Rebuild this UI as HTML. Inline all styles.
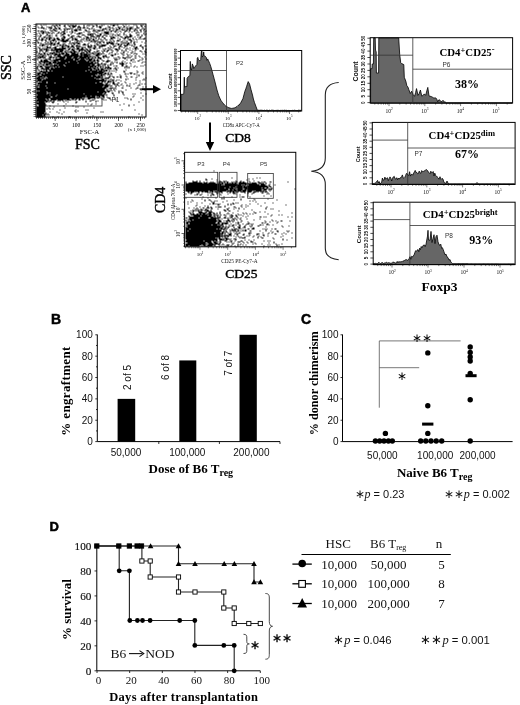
<!DOCTYPE html>
<html><head><meta charset="utf-8"><style>
html,body{margin:0;padding:0;background:#fff;}
svg{display:block;filter:grayscale(1);}
</style></head><body>
<svg width="520" height="705" viewBox="0 0 520 705">
<rect width="520" height="705" fill="#fff"/>
<text x="21" y="11.5" font-family='"Liberation Sans", sans-serif' font-size="13" font-weight="bold" text-anchor="start" fill="#000"  stroke="#000" stroke-width="0.5">A</text>
<text x="51" y="323.7" font-family='"Liberation Sans", sans-serif' font-size="14" font-weight="bold" text-anchor="start" fill="#000"  stroke="#000" stroke-width="0.5">B</text>
<text x="301" y="323.7" font-family='"Liberation Sans", sans-serif' font-size="14" font-weight="bold" text-anchor="start" fill="#000"  stroke="#000" stroke-width="0.5">C</text>
<text x="49.5" y="531.2" font-family='"Liberation Sans", sans-serif' font-size="13" font-weight="bold" text-anchor="start" fill="#000"  stroke="#000" stroke-width="0.5">D</text>
<rect x="36" y="24" width="110" height="93" stroke="#000" stroke-width="1" fill="none" />
<rect x="44" y="95" width="58" height="11" stroke="#444" stroke-width="0.9" fill="none" />
<path d="M36 24h1v1h-1zM40 24h1v1h-1zM43 24h1v1h-1zM45 24h1v1h-1zM52 24h1v1h-1zM55 24h2v1h-2zM58 24h2v1h-2zM64 24h1v1h-1zM67 24h1v1h-1zM70 24h1v1h-1zM72 24h1v1h-1zM75 24h1v1h-1zM83 24h1v1h-1zM87 24h1v1h-1zM89 24h1v1h-1zM91 24h1v1h-1zM95 24h2v1h-2zM101 24h1v1h-1zM103 24h1v1h-1zM110 24h1v1h-1zM112 24h3v1h-3zM116 24h2v1h-2zM122 24h1v1h-1zM125 24h1v1h-1zM133 24h1v1h-1zM135 24h1v1h-1zM140 24h1v1h-1zM142 24h1v1h-1zM41 25h1v1h-1zM51 25h1v1h-1zM53 25h2v1h-2zM56 25h1v1h-1zM59 25h1v1h-1zM63 25h2v1h-2zM68 25h2v1h-2zM71 25h5v1h-5zM78 25h1v1h-1zM83 25h1v1h-1zM86 25h1v1h-1zM88 25h1v1h-1zM92 25h2v1h-2zM96 25h1v1h-1zM99 25h1v1h-1zM101 25h1v1h-1zM107 25h1v1h-1zM112 25h2v1h-2zM123 25h1v1h-1zM128 25h1v1h-1zM136 25h1v1h-1zM140 25h2v1h-2zM144 25h1v1h-1zM37 26h1v1h-1zM41 26h1v1h-1zM46 26h1v1h-1zM48 26h1v1h-1zM50 26h1v1h-1zM54 26h1v1h-1zM57 26h1v1h-1zM64 26h1v1h-1zM69 26h1v1h-1zM72 26h3v1h-3zM77 26h3v1h-3zM83 26h1v1h-1zM92 26h1v1h-1zM96 26h1v1h-1zM98 26h3v1h-3zM108 26h2v1h-2zM117 26h2v1h-2zM120 26h1v1h-1zM123 26h2v1h-2zM126 26h1v1h-1zM130 26h1v1h-1zM132 26h1v1h-1zM136 26h1v1h-1zM141 26h1v1h-1zM144 26h1v1h-1zM38 27h1v1h-1zM40 27h4v1h-4zM48 27h4v1h-4zM54 27h2v1h-2zM58 27h2v1h-2zM65 27h1v1h-1zM70 27h1v1h-1zM72 27h1v1h-1zM77 27h1v1h-1zM79 27h2v1h-2zM82 27h3v1h-3zM86 27h2v1h-2zM91 27h1v1h-1zM99 27h2v1h-2zM105 27h1v1h-1zM107 27h1v1h-1zM109 27h1v1h-1zM111 27h2v1h-2zM115 27h1v1h-1zM118 27h2v1h-2zM122 27h1v1h-1zM126 27h1v1h-1zM128 27h4v1h-4zM136 27h3v1h-3zM142 27h1v1h-1zM43 28h1v1h-1zM45 28h1v1h-1zM50 28h1v1h-1zM53 28h1v1h-1zM55 28h2v1h-2zM58 28h2v1h-2zM63 28h2v1h-2zM66 28h4v1h-4zM71 28h1v1h-1zM75 28h1v1h-1zM77 28h1v1h-1zM79 28h1v1h-1zM88 28h2v1h-2zM91 28h1v1h-1zM93 28h1v1h-1zM102 28h4v1h-4zM109 28h1v1h-1zM113 28h1v1h-1zM116 28h1v1h-1zM118 28h2v1h-2zM121 28h1v1h-1zM124 28h1v1h-1zM126 28h2v1h-2zM129 28h2v1h-2zM132 28h1v1h-1zM134 28h2v1h-2zM141 28h1v1h-1zM143 28h2v1h-2zM49 29h1v1h-1zM52 29h3v1h-3zM60 29h1v1h-1zM64 29h1v1h-1zM66 29h1v1h-1zM71 29h1v1h-1zM73 29h4v1h-4zM78 29h3v1h-3zM84 29h2v1h-2zM93 29h1v1h-1zM95 29h1v1h-1zM97 29h1v1h-1zM99 29h1v1h-1zM101 29h2v1h-2zM106 29h1v1h-1zM108 29h2v1h-2zM112 29h1v1h-1zM115 29h3v1h-3zM121 29h3v1h-3zM126 29h1v1h-1zM128 29h2v1h-2zM134 29h1v1h-1zM136 29h1v1h-1zM139 29h2v1h-2zM143 29h1v1h-1zM37 30h2v1h-2zM40 30h3v1h-3zM44 30h1v1h-1zM50 30h2v1h-2zM54 30h3v1h-3zM63 30h2v1h-2zM71 30h1v1h-1zM74 30h3v1h-3zM85 30h2v1h-2zM88 30h1v1h-1zM92 30h3v1h-3zM97 30h3v1h-3zM101 30h1v1h-1zM103 30h1v1h-1zM110 30h2v1h-2zM113 30h1v1h-1zM115 30h1v1h-1zM119 30h1v1h-1zM124 30h3v1h-3zM129 30h1v1h-1zM133 30h2v1h-2zM136 30h1v1h-1zM140 30h1v1h-1zM143 30h1v1h-1zM145 30h1v1h-1zM40 31h1v1h-1zM42 31h2v1h-2zM45 31h1v1h-1zM47 31h1v1h-1zM52 31h1v1h-1zM58 31h1v1h-1zM61 31h3v1h-3zM66 31h1v1h-1zM69 31h1v1h-1zM71 31h2v1h-2zM83 31h1v1h-1zM87 31h1v1h-1zM89 31h1v1h-1zM95 31h2v1h-2zM104 31h5v1h-5zM110 31h1v1h-1zM114 31h2v1h-2zM117 31h1v1h-1zM120 31h1v1h-1zM124 31h1v1h-1zM128 31h1v1h-1zM131 31h1v1h-1zM137 31h1v1h-1zM140 31h1v1h-1zM144 31h1v1h-1zM38 32h1v1h-1zM41 32h3v1h-3zM45 32h1v1h-1zM47 32h3v1h-3zM51 32h1v1h-1zM53 32h1v1h-1zM57 32h2v1h-2zM60 32h1v1h-1zM63 32h2v1h-2zM71 32h1v1h-1zM74 32h1v1h-1zM78 32h4v1h-4zM88 32h1v1h-1zM93 32h1v1h-1zM97 32h1v1h-1zM101 32h1v1h-1zM103 32h5v1h-5zM123 32h1v1h-1zM135 32h2v1h-2zM138 32h1v1h-1zM143 32h1v1h-1zM36 33h1v1h-1zM39 33h1v1h-1zM42 33h1v1h-1zM46 33h1v1h-1zM51 33h1v1h-1zM56 33h1v1h-1zM60 33h1v1h-1zM62 33h3v1h-3zM70 33h1v1h-1zM76 33h4v1h-4zM87 33h1v1h-1zM89 33h4v1h-4zM94 33h1v1h-1zM99 33h2v1h-2zM105 33h4v1h-4zM110 33h1v1h-1zM112 33h1v1h-1zM116 33h1v1h-1zM119 33h1v1h-1zM123 33h1v1h-1zM129 33h1v1h-1zM143 33h1v1h-1zM145 33h1v1h-1zM40 34h1v1h-1zM46 34h2v1h-2zM49 34h1v1h-1zM55 34h1v1h-1zM61 34h2v1h-2zM67 34h2v1h-2zM81 34h3v1h-3zM87 34h4v1h-4zM92 34h1v1h-1zM95 34h1v1h-1zM97 34h1v1h-1zM99 34h2v1h-2zM103 34h2v1h-2zM112 34h1v1h-1zM114 34h1v1h-1zM117 34h2v1h-2zM123 34h1v1h-1zM125 34h1v1h-1zM129 34h2v1h-2zM136 34h3v1h-3zM141 34h1v1h-1zM144 34h1v1h-1zM37 35h1v1h-1zM39 35h2v1h-2zM45 35h1v1h-1zM48 35h2v1h-2zM51 35h1v1h-1zM55 35h2v1h-2zM60 35h1v1h-1zM63 35h1v1h-1zM68 35h1v1h-1zM71 35h3v1h-3zM77 35h2v1h-2zM84 35h1v1h-1zM90 35h3v1h-3zM96 35h4v1h-4zM102 35h1v1h-1zM105 35h2v1h-2zM109 35h1v1h-1zM111 35h1v1h-1zM115 35h1v1h-1zM117 35h1v1h-1zM119 35h1v1h-1zM126 35h1v1h-1zM129 35h3v1h-3zM141 35h1v1h-1zM39 36h1v1h-1zM43 36h2v1h-2zM47 36h1v1h-1zM49 36h1v1h-1zM62 36h3v1h-3zM70 36h2v1h-2zM76 36h1v1h-1zM78 36h3v1h-3zM85 36h3v1h-3zM90 36h1v1h-1zM92 36h3v1h-3zM96 36h1v1h-1zM98 36h1v1h-1zM101 36h2v1h-2zM110 36h1v1h-1zM112 36h2v1h-2zM120 36h2v1h-2zM124 36h7v1h-7zM134 36h1v1h-1zM137 36h1v1h-1zM139 36h2v1h-2zM38 37h1v1h-1zM41 37h1v1h-1zM43 37h1v1h-1zM45 37h2v1h-2zM48 37h4v1h-4zM53 37h1v1h-1zM56 37h2v1h-2zM61 37h1v1h-1zM63 37h2v1h-2zM69 37h1v1h-1zM71 37h2v1h-2zM74 37h1v1h-1zM83 37h1v1h-1zM86 37h3v1h-3zM90 37h1v1h-1zM95 37h1v1h-1zM98 37h1v1h-1zM103 37h2v1h-2zM110 37h5v1h-5zM117 37h1v1h-1zM122 37h1v1h-1zM124 37h2v1h-2zM127 37h1v1h-1zM132 37h1v1h-1zM139 37h1v1h-1zM144 37h1v1h-1zM38 38h1v1h-1zM41 38h2v1h-2zM46 38h1v1h-1zM48 38h2v1h-2zM53 38h2v1h-2zM56 38h3v1h-3zM61 38h3v1h-3zM67 38h2v1h-2zM72 38h1v1h-1zM74 38h3v1h-3zM81 38h1v1h-1zM83 38h1v1h-1zM85 38h2v1h-2zM88 38h1v1h-1zM90 38h1v1h-1zM92 38h2v1h-2zM95 38h1v1h-1zM98 38h1v1h-1zM100 38h1v1h-1zM104 38h1v1h-1zM110 38h2v1h-2zM119 38h1v1h-1zM123 38h2v1h-2zM127 38h1v1h-1zM129 38h1v1h-1zM132 38h1v1h-1zM135 38h1v1h-1zM138 38h1v1h-1zM140 38h1v1h-1zM142 38h3v1h-3zM36 39h1v1h-1zM38 39h1v1h-1zM40 39h3v1h-3zM44 39h2v1h-2zM48 39h2v1h-2zM51 39h4v1h-4zM57 39h3v1h-3zM61 39h3v1h-3zM65 39h3v1h-3zM71 39h2v1h-2zM74 39h3v1h-3zM80 39h1v1h-1zM82 39h1v1h-1zM86 39h1v1h-1zM88 39h2v1h-2zM92 39h2v1h-2zM97 39h1v1h-1zM100 39h1v1h-1zM102 39h1v1h-1zM105 39h2v1h-2zM109 39h1v1h-1zM112 39h1v1h-1zM117 39h1v1h-1zM119 39h1v1h-1zM128 39h3v1h-3zM133 39h1v1h-1zM136 39h1v1h-1zM36 40h1v1h-1zM41 40h1v1h-1zM45 40h1v1h-1zM50 40h1v1h-1zM52 40h2v1h-2zM55 40h1v1h-1zM60 40h8v1h-8zM69 40h1v1h-1zM76 40h3v1h-3zM80 40h1v1h-1zM84 40h1v1h-1zM86 40h1v1h-1zM88 40h1v1h-1zM90 40h2v1h-2zM93 40h4v1h-4zM101 40h1v1h-1zM110 40h1v1h-1zM113 40h1v1h-1zM116 40h3v1h-3zM122 40h1v1h-1zM124 40h1v1h-1zM126 40h1v1h-1zM130 40h2v1h-2zM145 40h1v1h-1zM37 41h1v1h-1zM45 41h1v1h-1zM47 41h1v1h-1zM49 41h2v1h-2zM55 41h1v1h-1zM58 41h1v1h-1zM62 41h4v1h-4zM69 41h1v1h-1zM74 41h1v1h-1zM76 41h1v1h-1zM79 41h1v1h-1zM81 41h1v1h-1zM90 41h1v1h-1zM92 41h1v1h-1zM94 41h1v1h-1zM97 41h4v1h-4zM102 41h2v1h-2zM106 41h1v1h-1zM108 41h2v1h-2zM111 41h1v1h-1zM113 41h1v1h-1zM120 41h2v1h-2zM126 41h1v1h-1zM130 41h1v1h-1zM133 41h2v1h-2zM136 41h1v1h-1zM141 41h1v1h-1zM37 42h2v1h-2zM40 42h1v1h-1zM44 42h1v1h-1zM47 42h1v1h-1zM50 42h3v1h-3zM54 42h1v1h-1zM57 42h2v1h-2zM69 42h1v1h-1zM71 42h3v1h-3zM75 42h4v1h-4zM88 42h1v1h-1zM94 42h1v1h-1zM96 42h1v1h-1zM99 42h1v1h-1zM103 42h1v1h-1zM106 42h7v1h-7zM116 42h1v1h-1zM122 42h4v1h-4zM127 42h2v1h-2zM130 42h1v1h-1zM133 42h1v1h-1zM144 42h1v1h-1zM40 43h1v1h-1zM42 43h1v1h-1zM45 43h2v1h-2zM48 43h4v1h-4zM53 43h2v1h-2zM56 43h3v1h-3zM62 43h3v1h-3zM68 43h1v1h-1zM70 43h1v1h-1zM73 43h2v1h-2zM77 43h3v1h-3zM83 43h2v1h-2zM87 43h1v1h-1zM96 43h1v1h-1zM98 43h1v1h-1zM100 43h1v1h-1zM106 43h2v1h-2zM110 43h4v1h-4zM115 43h1v1h-1zM117 43h2v1h-2zM120 43h2v1h-2zM126 43h3v1h-3zM133 43h2v1h-2zM39 44h1v1h-1zM41 44h4v1h-4zM47 44h1v1h-1zM50 44h1v1h-1zM52 44h3v1h-3zM59 44h2v1h-2zM62 44h1v1h-1zM65 44h1v1h-1zM71 44h1v1h-1zM73 44h1v1h-1zM76 44h1v1h-1zM82 44h4v1h-4zM87 44h1v1h-1zM90 44h1v1h-1zM94 44h1v1h-1zM96 44h2v1h-2zM101 44h5v1h-5zM112 44h1v1h-1zM117 44h2v1h-2zM120 44h1v1h-1zM123 44h2v1h-2zM126 44h2v1h-2zM129 44h1v1h-1zM131 44h1v1h-1zM134 44h1v1h-1zM140 44h1v1h-1zM39 45h1v1h-1zM41 45h2v1h-2zM46 45h1v1h-1zM50 45h1v1h-1zM56 45h2v1h-2zM59 45h1v1h-1zM61 45h8v1h-8zM71 45h2v1h-2zM75 45h5v1h-5zM87 45h2v1h-2zM90 45h2v1h-2zM93 45h2v1h-2zM98 45h7v1h-7zM109 45h1v1h-1zM113 45h3v1h-3zM119 45h2v1h-2zM124 45h3v1h-3zM131 45h1v1h-1zM133 45h1v1h-1zM139 45h2v1h-2zM144 45h2v1h-2zM37 46h1v1h-1zM44 46h1v1h-1zM46 46h2v1h-2zM49 46h1v1h-1zM54 46h2v1h-2zM61 46h2v1h-2zM67 46h2v1h-2zM70 46h4v1h-4zM76 46h1v1h-1zM78 46h1v1h-1zM80 46h1v1h-1zM82 46h1v1h-1zM84 46h1v1h-1zM87 46h4v1h-4zM94 46h2v1h-2zM99 46h1v1h-1zM101 46h1v1h-1zM110 46h1v1h-1zM113 46h1v1h-1zM118 46h2v1h-2zM121 46h1v1h-1zM124 46h1v1h-1zM133 46h1v1h-1zM135 46h2v1h-2zM141 46h2v1h-2zM38 47h2v1h-2zM42 47h1v1h-1zM46 47h5v1h-5zM52 47h4v1h-4zM59 47h1v1h-1zM61 47h5v1h-5zM67 47h1v1h-1zM69 47h1v1h-1zM73 47h1v1h-1zM76 47h3v1h-3zM81 47h2v1h-2zM84 47h1v1h-1zM88 47h1v1h-1zM90 47h1v1h-1zM92 47h3v1h-3zM98 47h2v1h-2zM107 47h2v1h-2zM110 47h1v1h-1zM112 47h1v1h-1zM118 47h1v1h-1zM123 47h1v1h-1zM126 47h1v1h-1zM129 47h1v1h-1zM134 47h3v1h-3zM142 47h1v1h-1zM36 48h1v1h-1zM39 48h1v1h-1zM41 48h1v1h-1zM43 48h4v1h-4zM51 48h1v1h-1zM54 48h11v1h-11zM68 48h2v1h-2zM71 48h2v1h-2zM74 48h1v1h-1zM76 48h3v1h-3zM80 48h3v1h-3zM85 48h2v1h-2zM89 48h1v1h-1zM93 48h2v1h-2zM96 48h1v1h-1zM102 48h1v1h-1zM104 48h2v1h-2zM109 48h1v1h-1zM114 48h3v1h-3zM118 48h2v1h-2zM125 48h1v1h-1zM127 48h1v1h-1zM132 48h1v1h-1zM134 48h2v1h-2zM137 48h1v1h-1zM142 48h1v1h-1zM145 48h1v1h-1zM39 49h3v1h-3zM43 49h1v1h-1zM45 49h4v1h-4zM50 49h13v1h-13zM65 49h1v1h-1zM67 49h2v1h-2zM71 49h3v1h-3zM76 49h1v1h-1zM78 49h7v1h-7zM86 49h2v1h-2zM89 49h2v1h-2zM103 49h1v1h-1zM107 49h2v1h-2zM110 49h2v1h-2zM115 49h3v1h-3zM121 49h1v1h-1zM125 49h1v1h-1zM129 49h1v1h-1zM135 49h1v1h-1zM145 49h1v1h-1zM36 50h1v1h-1zM39 50h1v1h-1zM41 50h1v1h-1zM45 50h2v1h-2zM51 50h1v1h-1zM53 50h1v1h-1zM55 50h3v1h-3zM59 50h4v1h-4zM64 50h1v1h-1zM66 50h1v1h-1zM70 50h1v1h-1zM72 50h3v1h-3zM78 50h2v1h-2zM81 50h1v1h-1zM84 50h2v1h-2zM87 50h3v1h-3zM96 50h3v1h-3zM101 50h1v1h-1zM103 50h2v1h-2zM106 50h2v1h-2zM112 50h1v1h-1zM117 50h1v1h-1zM121 50h1v1h-1zM123 50h1v1h-1zM125 50h1v1h-1zM131 50h1v1h-1zM134 50h1v1h-1zM139 50h2v1h-2zM144 50h1v1h-1zM36 51h1v1h-1zM39 51h1v1h-1zM42 51h1v1h-1zM45 51h1v1h-1zM47 51h1v1h-1zM53 51h1v1h-1zM55 51h7v1h-7zM64 51h2v1h-2zM67 51h5v1h-5zM73 51h4v1h-4zM78 51h1v1h-1zM81 51h1v1h-1zM83 51h1v1h-1zM85 51h2v1h-2zM88 51h2v1h-2zM93 51h2v1h-2zM96 51h1v1h-1zM102 51h1v1h-1zM106 51h1v1h-1zM111 51h1v1h-1zM116 51h1v1h-1zM123 51h1v1h-1zM127 51h1v1h-1zM132 51h1v1h-1zM141 51h1v1h-1zM144 51h2v1h-2zM36 52h1v1h-1zM38 52h1v1h-1zM43 52h2v1h-2zM49 52h6v1h-6zM56 52h1v1h-1zM58 52h1v1h-1zM61 52h3v1h-3zM65 52h2v1h-2zM70 52h5v1h-5zM77 52h1v1h-1zM80 52h4v1h-4zM86 52h2v1h-2zM89 52h1v1h-1zM91 52h2v1h-2zM95 52h1v1h-1zM97 52h3v1h-3zM102 52h1v1h-1zM109 52h1v1h-1zM111 52h1v1h-1zM120 52h1v1h-1zM122 52h2v1h-2zM130 52h2v1h-2zM134 52h1v1h-1zM145 52h1v1h-1zM38 53h4v1h-4zM43 53h2v1h-2zM46 53h2v1h-2zM49 53h1v1h-1zM51 53h2v1h-2zM54 53h3v1h-3zM58 53h6v1h-6zM65 53h4v1h-4zM71 53h7v1h-7zM79 53h3v1h-3zM83 53h4v1h-4zM88 53h1v1h-1zM90 53h1v1h-1zM92 53h3v1h-3zM96 53h3v1h-3zM100 53h2v1h-2zM103 53h1v1h-1zM108 53h1v1h-1zM114 53h2v1h-2zM117 53h1v1h-1zM121 53h1v1h-1zM126 53h1v1h-1zM133 53h1v1h-1zM135 53h2v1h-2zM142 53h1v1h-1zM144 53h1v1h-1zM37 54h1v1h-1zM40 54h1v1h-1zM42 54h1v1h-1zM44 54h1v1h-1zM47 54h2v1h-2zM50 54h1v1h-1zM53 54h7v1h-7zM62 54h1v1h-1zM64 54h5v1h-5zM70 54h8v1h-8zM80 54h10v1h-10zM95 54h5v1h-5zM105 54h1v1h-1zM110 54h3v1h-3zM114 54h1v1h-1zM122 54h2v1h-2zM127 54h1v1h-1zM129 54h1v1h-1zM145 54h1v1h-1zM36 55h1v1h-1zM38 55h2v1h-2zM41 55h3v1h-3zM45 55h1v1h-1zM50 55h1v1h-1zM54 55h1v1h-1zM57 55h4v1h-4zM63 55h19v1h-19zM83 55h5v1h-5zM89 55h1v1h-1zM91 55h1v1h-1zM93 55h1v1h-1zM95 55h3v1h-3zM102 55h4v1h-4zM111 55h2v1h-2zM127 55h1v1h-1zM131 55h1v1h-1zM134 55h2v1h-2zM138 55h1v1h-1zM37 56h1v1h-1zM39 56h4v1h-4zM44 56h1v1h-1zM48 56h4v1h-4zM53 56h1v1h-1zM55 56h10v1h-10zM66 56h6v1h-6zM73 56h5v1h-5zM79 56h12v1h-12zM92 56h1v1h-1zM94 56h1v1h-1zM97 56h2v1h-2zM102 56h2v1h-2zM105 56h2v1h-2zM108 56h1v1h-1zM117 56h2v1h-2zM122 56h1v1h-1zM126 56h1v1h-1zM128 56h1v1h-1zM130 56h1v1h-1zM139 56h1v1h-1zM144 56h1v1h-1zM37 57h4v1h-4zM42 57h3v1h-3zM49 57h2v1h-2zM52 57h2v1h-2zM55 57h1v1h-1zM59 57h6v1h-6zM66 57h5v1h-5zM72 57h5v1h-5zM78 57h8v1h-8zM87 57h2v1h-2zM91 57h2v1h-2zM94 57h2v1h-2zM97 57h4v1h-4zM103 57h1v1h-1zM107 57h1v1h-1zM113 57h1v1h-1zM115 57h1v1h-1zM119 57h1v1h-1zM122 57h4v1h-4zM127 57h1v1h-1zM129 57h1v1h-1zM134 57h2v1h-2zM141 57h1v1h-1zM36 58h1v1h-1zM45 58h1v1h-1zM47 58h3v1h-3zM55 58h9v1h-9zM65 58h8v1h-8zM74 58h5v1h-5zM80 58h4v1h-4zM85 58h7v1h-7zM93 58h1v1h-1zM97 58h1v1h-1zM99 58h2v1h-2zM114 58h1v1h-1zM116 58h1v1h-1zM118 58h1v1h-1zM124 58h1v1h-1zM132 58h1v1h-1zM142 58h1v1h-1zM145 58h1v1h-1zM37 59h1v1h-1zM40 59h2v1h-2zM43 59h4v1h-4zM49 59h2v1h-2zM52 59h21v1h-21zM74 59h4v1h-4zM79 59h6v1h-6zM86 59h1v1h-1zM88 59h4v1h-4zM93 59h2v1h-2zM96 59h2v1h-2zM101 59h1v1h-1zM107 59h1v1h-1zM114 59h3v1h-3zM126 59h1v1h-1zM130 59h2v1h-2zM133 59h1v1h-1zM139 59h1v1h-1zM141 59h1v1h-1zM40 60h2v1h-2zM43 60h5v1h-5zM51 60h1v1h-1zM53 60h5v1h-5zM60 60h16v1h-16zM77 60h9v1h-9zM87 60h4v1h-4zM92 60h3v1h-3zM96 60h3v1h-3zM102 60h2v1h-2zM106 60h4v1h-4zM122 60h1v1h-1zM130 60h1v1h-1zM137 60h2v1h-2zM38 61h13v1h-13zM52 61h4v1h-4zM57 61h11v1h-11zM69 61h20v1h-20zM90 61h3v1h-3zM94 61h1v1h-1zM97 61h1v1h-1zM105 61h3v1h-3zM111 61h1v1h-1zM114 61h1v1h-1zM116 61h1v1h-1zM121 61h1v1h-1zM124 61h1v1h-1zM132 61h1v1h-1zM134 61h1v1h-1zM142 61h1v1h-1zM144 61h1v1h-1zM39 62h1v1h-1zM43 62h2v1h-2zM46 62h1v1h-1zM48 62h3v1h-3zM52 62h13v1h-13zM66 62h11v1h-11zM78 62h15v1h-15zM94 62h4v1h-4zM101 62h1v1h-1zM110 62h1v1h-1zM112 62h1v1h-1zM116 62h1v1h-1zM119 62h1v1h-1zM121 62h2v1h-2zM126 62h1v1h-1zM129 62h1v1h-1zM141 62h1v1h-1zM37 63h1v1h-1zM39 63h3v1h-3zM43 63h1v1h-1zM45 63h7v1h-7zM54 63h1v1h-1zM56 63h39v1h-39zM97 63h2v1h-2zM100 63h2v1h-2zM103 63h3v1h-3zM110 63h1v1h-1zM112 63h1v1h-1zM119 63h5v1h-5zM125 63h1v1h-1zM130 63h1v1h-1zM38 64h1v1h-1zM42 64h2v1h-2zM45 64h3v1h-3zM49 64h1v1h-1zM51 64h1v1h-1zM53 64h4v1h-4zM58 64h5v1h-5zM64 64h26v1h-26zM91 64h3v1h-3zM96 64h4v1h-4zM102 64h1v1h-1zM104 64h1v1h-1zM107 64h1v1h-1zM109 64h2v1h-2zM121 64h2v1h-2zM144 64h1v1h-1zM37 65h1v1h-1zM39 65h3v1h-3zM43 65h1v1h-1zM45 65h1v1h-1zM47 65h1v1h-1zM49 65h15v1h-15zM65 65h31v1h-31zM97 65h2v1h-2zM100 65h1v1h-1zM102 65h1v1h-1zM104 65h1v1h-1zM107 65h1v1h-1zM113 65h1v1h-1zM115 65h2v1h-2zM121 65h2v1h-2zM125 65h2v1h-2zM130 65h1v1h-1zM134 65h1v1h-1zM140 65h1v1h-1zM142 65h1v1h-1zM36 66h2v1h-2zM39 66h3v1h-3zM44 66h6v1h-6zM51 66h1v1h-1zM53 66h2v1h-2zM56 66h2v1h-2zM59 66h29v1h-29zM89 66h4v1h-4zM94 66h2v1h-2zM97 66h1v1h-1zM99 66h2v1h-2zM102 66h1v1h-1zM105 66h1v1h-1zM107 66h2v1h-2zM124 66h1v1h-1zM126 66h1v1h-1zM128 66h1v1h-1zM133 66h1v1h-1zM136 66h1v1h-1zM36 67h1v1h-1zM41 67h2v1h-2zM45 67h4v1h-4zM50 67h3v1h-3zM54 67h37v1h-37zM92 67h3v1h-3zM96 67h2v1h-2zM100 67h1v1h-1zM102 67h1v1h-1zM104 67h7v1h-7zM114 67h2v1h-2zM117 67h1v1h-1zM124 67h1v1h-1zM126 67h1v1h-1zM128 67h1v1h-1zM36 68h2v1h-2zM40 68h9v1h-9zM50 68h42v1h-42zM93 68h3v1h-3zM97 68h2v1h-2zM100 68h3v1h-3zM104 68h1v1h-1zM107 68h1v1h-1zM109 68h2v1h-2zM113 68h1v1h-1zM115 68h1v1h-1zM38 69h1v1h-1zM43 69h1v1h-1zM45 69h2v1h-2zM48 69h40v1h-40zM89 69h3v1h-3zM93 69h1v1h-1zM95 69h4v1h-4zM100 69h4v1h-4zM105 69h2v1h-2zM108 69h1v1h-1zM115 69h2v1h-2zM125 69h1v1h-1zM36 70h1v1h-1zM38 70h1v1h-1zM40 70h2v1h-2zM43 70h1v1h-1zM45 70h2v1h-2zM49 70h2v1h-2zM52 70h33v1h-33zM86 70h11v1h-11zM98 70h4v1h-4zM103 70h4v1h-4zM109 70h1v1h-1zM111 70h1v1h-1zM113 70h1v1h-1zM123 70h1v1h-1zM136 70h1v1h-1zM39 71h51v1h-51zM91 71h13v1h-13zM108 71h1v1h-1zM115 71h1v1h-1zM123 71h2v1h-2zM137 71h1v1h-1zM142 71h1v1h-1zM36 72h4v1h-4zM42 72h4v1h-4zM47 72h56v1h-56zM104 72h2v1h-2zM107 72h1v1h-1zM110 72h1v1h-1zM129 72h3v1h-3zM136 72h1v1h-1zM141 72h1v1h-1zM37 73h6v1h-6zM44 73h53v1h-53zM98 73h4v1h-4zM103 73h3v1h-3zM107 73h2v1h-2zM110 73h2v1h-2zM124 73h2v1h-2zM127 73h1v1h-1zM130 73h1v1h-1zM133 73h2v1h-2zM142 73h1v1h-1zM36 74h3v1h-3zM41 74h54v1h-54zM96 74h1v1h-1zM98 74h1v1h-1zM100 74h4v1h-4zM107 74h1v1h-1zM109 74h1v1h-1zM119 74h1v1h-1zM136 74h1v1h-1zM138 74h1v1h-1zM36 75h1v1h-1zM38 75h53v1h-53zM92 75h4v1h-4zM97 75h5v1h-5zM104 75h1v1h-1zM109 75h1v1h-1zM111 75h1v1h-1zM120 75h1v1h-1zM125 75h1v1h-1zM138 75h1v1h-1zM37 76h5v1h-5zM43 76h2v1h-2zM46 76h16v1h-16zM63 76h37v1h-37zM101 76h2v1h-2zM108 76h2v1h-2zM112 76h2v1h-2zM116 76h2v1h-2zM119 76h2v1h-2zM126 76h1v1h-1zM130 76h2v1h-2zM136 76h1v1h-1zM36 77h4v1h-4zM41 77h3v1h-3zM45 77h1v1h-1zM47 77h47v1h-47zM95 77h7v1h-7zM104 77h5v1h-5zM113 77h1v1h-1zM120 77h1v1h-1zM135 77h1v1h-1zM145 77h1v1h-1zM36 78h6v1h-6zM43 78h1v1h-1zM45 78h51v1h-51zM97 78h1v1h-1zM101 78h3v1h-3zM105 78h1v1h-1zM107 78h1v1h-1zM110 78h1v1h-1zM125 78h1v1h-1zM127 78h1v1h-1zM143 78h1v1h-1zM37 79h4v1h-4zM42 79h62v1h-62zM105 79h1v1h-1zM109 79h1v1h-1zM111 79h3v1h-3zM116 79h1v1h-1zM118 79h1v1h-1zM125 79h1v1h-1zM135 79h1v1h-1zM142 79h1v1h-1zM144 79h1v1h-1zM36 80h70v1h-70zM107 80h2v1h-2zM110 80h1v1h-1zM112 80h1v1h-1zM115 80h1v1h-1zM120 80h1v1h-1zM139 80h1v1h-1zM36 81h1v1h-1zM39 81h1v1h-1zM41 81h5v1h-5zM47 81h52v1h-52zM101 81h2v1h-2zM104 81h1v1h-1zM107 81h4v1h-4zM112 81h2v1h-2zM124 81h1v1h-1zM37 82h9v1h-9zM47 82h7v1h-7zM55 82h40v1h-40zM96 82h6v1h-6zM104 82h1v1h-1zM106 82h2v1h-2zM112 82h2v1h-2zM117 82h2v1h-2zM125 82h1v1h-1zM135 82h1v1h-1zM139 82h1v1h-1zM37 83h66v1h-66zM105 83h2v1h-2zM109 83h1v1h-1zM112 83h3v1h-3zM116 83h1v1h-1zM121 83h1v1h-1zM129 83h1v1h-1zM133 83h1v1h-1zM141 83h1v1h-1zM144 83h1v1h-1zM37 84h1v1h-1zM39 84h70v1h-70zM114 84h1v1h-1zM116 84h2v1h-2zM120 84h1v1h-1zM126 84h1v1h-1zM138 84h2v1h-2zM36 85h9v1h-9zM46 85h57v1h-57zM104 85h4v1h-4zM109 85h3v1h-3zM115 85h1v1h-1zM118 85h1v1h-1zM122 85h1v1h-1zM126 85h1v1h-1zM128 85h2v1h-2zM137 85h1v1h-1zM36 86h1v1h-1zM39 86h63v1h-63zM103 86h5v1h-5zM115 86h1v1h-1zM142 86h1v1h-1zM145 86h1v1h-1zM36 87h10v1h-10zM47 87h59v1h-59zM109 87h4v1h-4zM114 87h1v1h-1zM121 87h2v1h-2zM130 87h1v1h-1zM136 87h2v1h-2zM36 88h31v1h-31zM68 88h37v1h-37zM106 88h1v1h-1zM108 88h1v1h-1zM110 88h1v1h-1zM113 88h1v1h-1zM115 88h1v1h-1zM135 88h1v1h-1zM139 88h2v1h-2zM36 89h68v1h-68zM106 89h1v1h-1zM110 89h1v1h-1zM113 89h1v1h-1zM125 89h1v1h-1zM140 89h1v1h-1zM144 89h1v1h-1zM37 90h1v1h-1zM39 90h66v1h-66zM106 90h4v1h-4zM111 90h1v1h-1zM114 90h1v1h-1zM118 90h1v1h-1zM120 90h1v1h-1zM36 91h10v1h-10zM47 91h50v1h-50zM98 91h8v1h-8zM107 91h2v1h-2zM118 91h1v1h-1zM121 91h2v1h-2zM36 92h11v1h-11zM48 92h1v1h-1zM50 92h53v1h-53zM104 92h2v1h-2zM111 92h2v1h-2zM118 92h1v1h-1zM122 92h1v1h-1zM140 92h1v1h-1zM36 93h10v1h-10zM47 93h36v1h-36zM84 93h18v1h-18zM103 93h2v1h-2zM112 93h1v1h-1zM122 93h1v1h-1zM132 93h1v1h-1zM134 93h1v1h-1zM145 93h1v1h-1zM37 94h12v1h-12zM50 94h6v1h-6zM57 94h47v1h-47zM105 94h2v1h-2zM113 94h1v1h-1zM123 94h1v1h-1zM36 95h19v1h-19zM56 95h29v1h-29zM86 95h4v1h-4zM91 95h4v1h-4zM96 95h4v1h-4zM101 95h3v1h-3zM113 95h1v1h-1zM133 95h1v1h-1zM142 95h1v1h-1zM36 96h14v1h-14zM52 96h43v1h-43zM96 96h1v1h-1zM98 96h2v1h-2zM102 96h2v1h-2zM106 96h1v1h-1zM132 96h1v1h-1zM36 97h46v1h-46zM83 97h1v1h-1zM87 97h8v1h-8zM96 97h3v1h-3zM100 97h1v1h-1zM103 97h1v1h-1zM107 97h3v1h-3zM124 97h1v1h-1zM126 97h1v1h-1zM140 97h1v1h-1zM37 98h8v1h-8zM46 98h2v1h-2zM50 98h19v1h-19zM71 98h3v1h-3zM75 98h2v1h-2zM78 98h2v1h-2zM81 98h3v1h-3zM85 98h1v1h-1zM87 98h3v1h-3zM94 98h1v1h-1zM101 98h2v1h-2zM109 98h1v1h-1zM114 98h1v1h-1zM127 98h1v1h-1zM130 98h1v1h-1zM36 99h10v1h-10zM47 99h2v1h-2zM50 99h6v1h-6zM57 99h6v1h-6zM64 99h1v1h-1zM66 99h5v1h-5zM72 99h1v1h-1zM74 99h2v1h-2zM78 99h2v1h-2zM82 99h1v1h-1zM91 99h3v1h-3zM103 99h1v1h-1zM105 99h1v1h-1zM110 99h1v1h-1zM115 99h1v1h-1zM130 99h1v1h-1zM142 99h1v1h-1zM36 100h12v1h-12zM49 100h2v1h-2zM53 100h1v1h-1zM57 100h1v1h-1zM59 100h1v1h-1zM62 100h1v1h-1zM65 100h1v1h-1zM85 100h1v1h-1zM89 100h2v1h-2zM95 100h1v1h-1zM97 100h1v1h-1zM36 101h1v1h-1zM38 101h6v1h-6zM45 101h2v1h-2zM48 101h1v1h-1zM51 101h3v1h-3zM63 101h1v1h-1zM67 101h1v1h-1zM75 101h2v1h-2zM85 101h1v1h-1zM95 101h1v1h-1zM138 101h1v1h-1zM36 102h9v1h-9zM52 102h1v1h-1zM75 102h1v1h-1zM36 103h9v1h-9zM57 103h1v1h-1zM65 103h1v1h-1zM87 103h1v1h-1zM91 103h1v1h-1zM95 103h1v1h-1zM123 103h1v1h-1zM38 104h8v1h-8zM90 104h1v1h-1zM119 104h1v1h-1zM128 104h1v1h-1zM133 104h1v1h-1zM36 105h1v1h-1zM38 105h7v1h-7zM49 105h1v1h-1zM63 105h1v1h-1zM72 105h1v1h-1zM128 105h1v1h-1zM36 106h9v1h-9zM53 106h1v1h-1zM75 106h1v1h-1zM77 106h1v1h-1zM83 106h1v1h-1zM36 107h9v1h-9zM48 107h1v1h-1zM64 107h1v1h-1zM93 107h1v1h-1zM36 108h9v1h-9zM46 108h1v1h-1zM49 108h1v1h-1zM52 108h1v1h-1zM36 109h9v1h-9zM59 109h1v1h-1zM75 109h1v1h-1zM85 109h1v1h-1zM87 109h1v1h-1zM121 109h1v1h-1zM134 109h1v1h-1zM36 110h9v1h-9zM74 110h1v1h-1zM77 110h1v1h-1zM36 111h9v1h-9zM49 111h1v1h-1zM56 111h1v1h-1zM63 111h1v1h-1zM75 111h1v1h-1zM100 111h1v1h-1zM102 111h1v1h-1zM36 112h8v1h-8zM45 112h1v1h-1zM58 112h1v1h-1zM86 112h1v1h-1zM36 113h10v1h-10zM47 113h1v1h-1zM61 113h1v1h-1zM138 113h1v1h-1zM36 114h6v1h-6zM43 114h2v1h-2zM46 114h1v1h-1zM48 114h1v1h-1zM141 114h1v1h-1zM36 115h9v1h-9zM92 115h1v1h-1zM36 116h7v1h-7zM44 116h1v1h-1zM52 116h1v1h-1zM57 116h1v1h-1zM68 116h2v1h-2zM89 116h1v1h-1zM128 116h1v1h-1z" fill="#000" fill-opacity="1.0" transform="translate(0.5 0.5)"/>
<text x="111.5" y="102.2" font-family='"Liberation Sans", sans-serif' font-size="6.5" font-weight="normal" text-anchor="start" fill="#333" >P1</text>
<line x1="36.5" y1="117" x2="36.5" y2="119" stroke="#000" stroke-width="0.5" />
<line x1="38.5" y1="117" x2="38.5" y2="119" stroke="#000" stroke-width="0.5" />
<line x1="40.5" y1="117" x2="40.5" y2="119" stroke="#000" stroke-width="0.5" />
<line x1="42.5" y1="117" x2="42.5" y2="119" stroke="#000" stroke-width="0.5" />
<line x1="44.5" y1="117" x2="44.5" y2="119" stroke="#000" stroke-width="0.5" />
<line x1="46.5" y1="117" x2="46.5" y2="119" stroke="#000" stroke-width="0.5" />
<line x1="48.5" y1="117" x2="48.5" y2="119" stroke="#000" stroke-width="0.5" />
<line x1="50.5" y1="117" x2="50.5" y2="119" stroke="#000" stroke-width="0.5" />
<line x1="52.5" y1="117" x2="52.5" y2="119" stroke="#000" stroke-width="0.5" />
<line x1="54.5" y1="117" x2="54.5" y2="119" stroke="#000" stroke-width="0.5" />
<line x1="56.5" y1="117" x2="56.5" y2="119" stroke="#000" stroke-width="0.5" />
<line x1="58.5" y1="117" x2="58.5" y2="119" stroke="#000" stroke-width="0.5" />
<line x1="60.5" y1="117" x2="60.5" y2="119" stroke="#000" stroke-width="0.5" />
<line x1="62.5" y1="117" x2="62.5" y2="119" stroke="#000" stroke-width="0.5" />
<line x1="64.5" y1="117" x2="64.5" y2="119" stroke="#000" stroke-width="0.5" />
<line x1="66.5" y1="117" x2="66.5" y2="119" stroke="#000" stroke-width="0.5" />
<line x1="68.5" y1="117" x2="68.5" y2="119" stroke="#000" stroke-width="0.5" />
<line x1="70.5" y1="117" x2="70.5" y2="119" stroke="#000" stroke-width="0.5" />
<line x1="72.5" y1="117" x2="72.5" y2="119" stroke="#000" stroke-width="0.5" />
<line x1="74.5" y1="117" x2="74.5" y2="119" stroke="#000" stroke-width="0.5" />
<line x1="76.5" y1="117" x2="76.5" y2="119" stroke="#000" stroke-width="0.5" />
<line x1="78.5" y1="117" x2="78.5" y2="119" stroke="#000" stroke-width="0.5" />
<line x1="80.5" y1="117" x2="80.5" y2="119" stroke="#000" stroke-width="0.5" />
<line x1="82.5" y1="117" x2="82.5" y2="119" stroke="#000" stroke-width="0.5" />
<line x1="84.5" y1="117" x2="84.5" y2="119" stroke="#000" stroke-width="0.5" />
<line x1="86.5" y1="117" x2="86.5" y2="119" stroke="#000" stroke-width="0.5" />
<line x1="88.5" y1="117" x2="88.5" y2="119" stroke="#000" stroke-width="0.5" />
<line x1="90.5" y1="117" x2="90.5" y2="119" stroke="#000" stroke-width="0.5" />
<line x1="92.5" y1="117" x2="92.5" y2="119" stroke="#000" stroke-width="0.5" />
<line x1="94.5" y1="117" x2="94.5" y2="119" stroke="#000" stroke-width="0.5" />
<line x1="96.5" y1="117" x2="96.5" y2="119" stroke="#000" stroke-width="0.5" />
<line x1="98.5" y1="117" x2="98.5" y2="119" stroke="#000" stroke-width="0.5" />
<line x1="100.5" y1="117" x2="100.5" y2="119" stroke="#000" stroke-width="0.5" />
<line x1="102.5" y1="117" x2="102.5" y2="119" stroke="#000" stroke-width="0.5" />
<line x1="104.5" y1="117" x2="104.5" y2="119" stroke="#000" stroke-width="0.5" />
<line x1="106.5" y1="117" x2="106.5" y2="119" stroke="#000" stroke-width="0.5" />
<line x1="108.5" y1="117" x2="108.5" y2="119" stroke="#000" stroke-width="0.5" />
<line x1="110.5" y1="117" x2="110.5" y2="119" stroke="#000" stroke-width="0.5" />
<line x1="112.5" y1="117" x2="112.5" y2="119" stroke="#000" stroke-width="0.5" />
<line x1="114.5" y1="117" x2="114.5" y2="119" stroke="#000" stroke-width="0.5" />
<line x1="116.5" y1="117" x2="116.5" y2="119" stroke="#000" stroke-width="0.5" />
<line x1="118.5" y1="117" x2="118.5" y2="119" stroke="#000" stroke-width="0.5" />
<line x1="120.5" y1="117" x2="120.5" y2="119" stroke="#000" stroke-width="0.5" />
<line x1="122.5" y1="117" x2="122.5" y2="119" stroke="#000" stroke-width="0.5" />
<line x1="124.5" y1="117" x2="124.5" y2="119" stroke="#000" stroke-width="0.5" />
<line x1="126.5" y1="117" x2="126.5" y2="119" stroke="#000" stroke-width="0.5" />
<line x1="128.5" y1="117" x2="128.5" y2="119" stroke="#000" stroke-width="0.5" />
<line x1="130.5" y1="117" x2="130.5" y2="119" stroke="#000" stroke-width="0.5" />
<line x1="132.5" y1="117" x2="132.5" y2="119" stroke="#000" stroke-width="0.5" />
<line x1="134.5" y1="117" x2="134.5" y2="119" stroke="#000" stroke-width="0.5" />
<line x1="136.5" y1="117" x2="136.5" y2="119" stroke="#000" stroke-width="0.5" />
<line x1="138.5" y1="117" x2="138.5" y2="119" stroke="#000" stroke-width="0.5" />
<line x1="140.5" y1="117" x2="140.5" y2="119" stroke="#000" stroke-width="0.5" />
<line x1="142.5" y1="117" x2="142.5" y2="119" stroke="#000" stroke-width="0.5" />
<line x1="144.5" y1="117" x2="144.5" y2="119" stroke="#000" stroke-width="0.5" />
<line x1="55.2" y1="117" x2="55.2" y2="121" stroke="#000" stroke-width="0.6" />
<text x="55.2" y="127" font-family='"Liberation Serif", serif' font-size="5.5" font-weight="normal" text-anchor="middle" fill="#000" >50</text>
<line x1="76" y1="117" x2="76" y2="121" stroke="#000" stroke-width="0.6" />
<text x="76" y="127" font-family='"Liberation Serif", serif' font-size="5.5" font-weight="normal" text-anchor="middle" fill="#000" >100</text>
<line x1="97" y1="117" x2="97" y2="121" stroke="#000" stroke-width="0.6" />
<text x="97" y="127" font-family='"Liberation Serif", serif' font-size="5.5" font-weight="normal" text-anchor="middle" fill="#000" >150</text>
<line x1="118.5" y1="117" x2="118.5" y2="121" stroke="#000" stroke-width="0.6" />
<text x="118.5" y="127" font-family='"Liberation Serif", serif' font-size="5.5" font-weight="normal" text-anchor="middle" fill="#000" >200</text>
<line x1="140.5" y1="117" x2="140.5" y2="121" stroke="#000" stroke-width="0.6" />
<text x="140.5" y="127" font-family='"Liberation Serif", serif' font-size="5.5" font-weight="normal" text-anchor="middle" fill="#000" >250</text>
<text x="89.5" y="134.2" font-family='"Liberation Serif", serif' font-size="6.8" font-weight="normal" text-anchor="middle" fill="#111" >FSC-A</text>
<text x="137" y="131" font-family='"Liberation Serif", serif' font-size="5" font-weight="normal" text-anchor="middle" fill="#000" >(x 1,000)</text>
<line x1="33.5" y1="116.5" x2="36" y2="116.5" stroke="#000" stroke-width="0.5" />
<line x1="33.5" y1="114.5" x2="36" y2="114.5" stroke="#000" stroke-width="0.5" />
<line x1="33.5" y1="112.5" x2="36" y2="112.5" stroke="#000" stroke-width="0.5" />
<line x1="33.5" y1="110.5" x2="36" y2="110.5" stroke="#000" stroke-width="0.5" />
<line x1="33.5" y1="108.5" x2="36" y2="108.5" stroke="#000" stroke-width="0.5" />
<line x1="33.5" y1="106.5" x2="36" y2="106.5" stroke="#000" stroke-width="0.5" />
<line x1="33.5" y1="104.5" x2="36" y2="104.5" stroke="#000" stroke-width="0.5" />
<line x1="33.5" y1="102.5" x2="36" y2="102.5" stroke="#000" stroke-width="0.5" />
<line x1="33.5" y1="100.5" x2="36" y2="100.5" stroke="#000" stroke-width="0.5" />
<line x1="33.5" y1="98.5" x2="36" y2="98.5" stroke="#000" stroke-width="0.5" />
<line x1="33.5" y1="96.5" x2="36" y2="96.5" stroke="#000" stroke-width="0.5" />
<line x1="33.5" y1="94.5" x2="36" y2="94.5" stroke="#000" stroke-width="0.5" />
<line x1="33.5" y1="92.5" x2="36" y2="92.5" stroke="#000" stroke-width="0.5" />
<line x1="33.5" y1="90.5" x2="36" y2="90.5" stroke="#000" stroke-width="0.5" />
<line x1="33.5" y1="88.5" x2="36" y2="88.5" stroke="#000" stroke-width="0.5" />
<line x1="33.5" y1="86.5" x2="36" y2="86.5" stroke="#000" stroke-width="0.5" />
<line x1="33.5" y1="84.5" x2="36" y2="84.5" stroke="#000" stroke-width="0.5" />
<line x1="33.5" y1="82.5" x2="36" y2="82.5" stroke="#000" stroke-width="0.5" />
<line x1="33.5" y1="80.5" x2="36" y2="80.5" stroke="#000" stroke-width="0.5" />
<line x1="33.5" y1="78.5" x2="36" y2="78.5" stroke="#000" stroke-width="0.5" />
<line x1="33.5" y1="76.5" x2="36" y2="76.5" stroke="#000" stroke-width="0.5" />
<line x1="33.5" y1="74.5" x2="36" y2="74.5" stroke="#000" stroke-width="0.5" />
<line x1="33.5" y1="72.5" x2="36" y2="72.5" stroke="#000" stroke-width="0.5" />
<line x1="33.5" y1="70.5" x2="36" y2="70.5" stroke="#000" stroke-width="0.5" />
<line x1="33.5" y1="68.5" x2="36" y2="68.5" stroke="#000" stroke-width="0.5" />
<line x1="33.5" y1="66.5" x2="36" y2="66.5" stroke="#000" stroke-width="0.5" />
<line x1="33.5" y1="64.5" x2="36" y2="64.5" stroke="#000" stroke-width="0.5" />
<line x1="33.5" y1="62.5" x2="36" y2="62.5" stroke="#000" stroke-width="0.5" />
<line x1="33.5" y1="60.5" x2="36" y2="60.5" stroke="#000" stroke-width="0.5" />
<line x1="33.5" y1="58.5" x2="36" y2="58.5" stroke="#000" stroke-width="0.5" />
<line x1="33.5" y1="56.5" x2="36" y2="56.5" stroke="#000" stroke-width="0.5" />
<line x1="33.5" y1="54.5" x2="36" y2="54.5" stroke="#000" stroke-width="0.5" />
<line x1="33.5" y1="52.5" x2="36" y2="52.5" stroke="#000" stroke-width="0.5" />
<line x1="33.5" y1="50.5" x2="36" y2="50.5" stroke="#000" stroke-width="0.5" />
<line x1="33.5" y1="48.5" x2="36" y2="48.5" stroke="#000" stroke-width="0.5" />
<line x1="33.5" y1="46.5" x2="36" y2="46.5" stroke="#000" stroke-width="0.5" />
<line x1="33.5" y1="44.5" x2="36" y2="44.5" stroke="#000" stroke-width="0.5" />
<line x1="33.5" y1="42.5" x2="36" y2="42.5" stroke="#000" stroke-width="0.5" />
<line x1="33.5" y1="40.5" x2="36" y2="40.5" stroke="#000" stroke-width="0.5" />
<line x1="33.5" y1="38.5" x2="36" y2="38.5" stroke="#000" stroke-width="0.5" />
<line x1="33.5" y1="36.5" x2="36" y2="36.5" stroke="#000" stroke-width="0.5" />
<line x1="33.5" y1="34.5" x2="36" y2="34.5" stroke="#000" stroke-width="0.5" />
<line x1="33.5" y1="32.5" x2="36" y2="32.5" stroke="#000" stroke-width="0.5" />
<line x1="33.5" y1="30.5" x2="36" y2="30.5" stroke="#000" stroke-width="0.5" />
<line x1="33.5" y1="28.5" x2="36" y2="28.5" stroke="#000" stroke-width="0.5" />
<line x1="33.5" y1="26.5" x2="36" y2="26.5" stroke="#000" stroke-width="0.5" />
<line x1="33.5" y1="24.5" x2="36" y2="24.5" stroke="#000" stroke-width="0.5" />
<line x1="32" y1="91.6" x2="36" y2="91.6" stroke="#000" stroke-width="0.6" />
<text x="0" y="0" transform="translate(30.5 91.6) rotate(-90)" font-family='"Liberation Serif", serif' font-size="5.5" font-weight="normal" text-anchor="middle" fill="#000" >50</text>
<line x1="32" y1="76.5" x2="36" y2="76.5" stroke="#000" stroke-width="0.6" />
<text x="0" y="0" transform="translate(30.5 76.5) rotate(-90)" font-family='"Liberation Serif", serif' font-size="5.5" font-weight="normal" text-anchor="middle" fill="#000" >100</text>
<line x1="32" y1="59.5" x2="36" y2="59.5" stroke="#000" stroke-width="0.6" />
<text x="0" y="0" transform="translate(30.5 59.5) rotate(-90)" font-family='"Liberation Serif", serif' font-size="5.5" font-weight="normal" text-anchor="middle" fill="#000" >150</text>
<line x1="32" y1="43" x2="36" y2="43" stroke="#000" stroke-width="0.6" />
<text x="0" y="0" transform="translate(30.5 43) rotate(-90)" font-family='"Liberation Serif", serif' font-size="5.5" font-weight="normal" text-anchor="middle" fill="#000" >200</text>
<line x1="32" y1="28.5" x2="36" y2="28.5" stroke="#000" stroke-width="0.6" />
<text x="0" y="0" transform="translate(30.5 28.5) rotate(-90)" font-family='"Liberation Serif", serif' font-size="5.5" font-weight="normal" text-anchor="middle" fill="#000" >250</text>
<text x="0" y="0" transform="translate(24.8 70) rotate(-90)" font-family='"Liberation Serif", serif' font-size="6.8" font-weight="normal" text-anchor="middle" fill="#111" >SSC-A</text>
<text x="0" y="0" transform="translate(24.5 35) rotate(-90)" font-family='"Liberation Serif", serif' font-size="5" font-weight="normal" text-anchor="middle" fill="#000" >(x 1,000)</text>
<text x="0" y="0" transform="translate(11 67.5) rotate(-90)" font-family='"Liberation Serif", serif' font-size="14" font-weight="normal" text-anchor="middle" fill="#000"  stroke="#000" stroke-width="0.4">SSC</text>
<text x="87.5" y="149" font-family='"Liberation Serif", serif' font-size="14" font-weight="normal" text-anchor="middle" fill="#000"  stroke="#000" stroke-width="0.4">FSC</text>
<line x1="141.5" y1="89.2" x2="154" y2="89.2" stroke="#000" stroke-width="2" />
<path d="M153 85 L161 89.2 L153 93.4 Z" fill="#000"/>
<path d="M181.1,111 L181.1,94.3 L182.0,94.3 L182.9,94.3 L183.8,93.7 L184.0,88.0 L184.3,77.2 L184.6,87.2 L185.8,86.4 L186.9,86.7 L187.1,78.3 L188.5,76.4 L189.9,75.7 L190.1,66.2 L190.3,61.4 L190.5,68.0 L191.5,70.3 L192.3,63.9 L193.0,65.4 L193.8,68.5 L194.7,67.3 L195.5,66.0 L196.9,64.5 L197.3,58.1 L197.8,57.4 L198.3,59.5 L199.8,60.8 L200.7,59.8 L201.3,51.8 L201.6,50.6 L201.9,50.5 L202.2,57.1 L203.3,55.6 L203.7,51.9 L204.1,55.9 L205.2,56.2 L206.2,57.3 L207.0,60.4 L207.7,58.9 L208.4,60.4 L209.8,63.7 L210.7,66.2 L211.5,69.0 L213.0,74.5 L214.0,78.2 L215.0,82.0 L216.0,86.0 L217.0,90.0 L217.9,92.9 L218.8,95.8 L219.9,98.2 L221.0,100.5 L221.8,101.6 L222.7,102.7 L223.6,103.8 L224.5,105.0 L225.5,105.8 L226.5,106.5 L227.3,106.9 L228.2,107.4 L229.0,107.8 L230.2,108.1 L231.3,108.4 L232.3,108.3 L233.2,108.1 L234.2,108.0 L235.1,107.6 L236.0,107.2 L237.0,106.4 L238.0,105.4 L239.0,105.1 L240.0,103.8 L241.0,102.3 L241.9,100.5 L242.9,98.7 L243.9,95.0 L244.8,91.5 L245.8,88.9 L246.7,86.2 L248.2,81.6 L249.6,84.1 L251.0,89.6 L252.5,95.0 L253.4,99.0 L254.4,102.3 L256.0,106.6 L257.3,110.2 L258.1,110.2 L259.0,110.3 L259.8,110.3 L260.6,110.2 L261.4,110.2 L262.2,110.2 L263.0,110.6 L263.8,110.4 L264.7,110.2 L265.5,110.5 L266.3,110.2 L267.1,110.2 L267.9,110.4 L268.7,110.6 L269.5,110.2 L270.3,110.6 L271.1,110.2 L271.9,110.2 L272.7,110.2 L273.5,110.3 L274.3,110.5 L275.2,110.4 L276.0,110.6 L276.8,110.3 L277.6,110.3 L278.4,110.3 L279.2,110.6 L280.0,110.6 L280.8,110.3 L281.6,110.4 L282.4,110.3 L283.2,110.5 L284.0,110.2 L284.8,110.2 L285.7,110.4 L286.5,110.3 L287.3,110.6 L288.1,110.5 L288.9,110.4 L289.7,110.5 L290.5,110.5 L291.3,110.5 L292.1,110.6 L292.9,110.2 L293.7,110.5 L294.5,110.2 L295.3,110.4 L296.2,110.5 L297.0,110.6 L297.8,110.5 L298.6,110.2 L299.4,110.3 L300.2,110.2 L301.0,110.6 L301.0,111 Z" fill="#666" stroke="#000" stroke-width="0.8" stroke-linejoin="bevel"/>
<rect x="180.5" y="50.5" width="121.2" height="60.5" stroke="#000" stroke-width="1" fill="none" />
<line x1="226.5" y1="50.5" x2="226.5" y2="111" stroke="#333" stroke-width="0.8" />
<line x1="180.5" y1="70.5" x2="226.5" y2="70.5" stroke="#333" stroke-width="0.8" />
<text x="236" y="65" font-family='"Liberation Sans", sans-serif' font-size="6" font-weight="normal" text-anchor="start" fill="#333" >P2</text>
<line x1="181.7" y1="111" x2="181.7" y2="112.5" stroke="#000" stroke-width="0.5" />
<line x1="185.5" y1="111" x2="185.5" y2="112.5" stroke="#000" stroke-width="0.5" />
<line x1="188.5" y1="111" x2="188.5" y2="112.5" stroke="#000" stroke-width="0.5" />
<line x1="190.9" y1="111" x2="190.9" y2="112.5" stroke="#000" stroke-width="0.5" />
<line x1="193.0" y1="111" x2="193.0" y2="112.5" stroke="#000" stroke-width="0.5" />
<line x1="194.7" y1="111" x2="194.7" y2="112.5" stroke="#000" stroke-width="0.5" />
<line x1="196.3" y1="111" x2="196.3" y2="112.5" stroke="#000" stroke-width="0.5" />
<line x1="197.7" y1="111" x2="197.7" y2="114" stroke="#000" stroke-width="0.5" />
<line x1="206.9" y1="111" x2="206.9" y2="112.5" stroke="#000" stroke-width="0.5" />
<line x1="212.3" y1="111" x2="212.3" y2="112.5" stroke="#000" stroke-width="0.5" />
<line x1="216.1" y1="111" x2="216.1" y2="112.5" stroke="#000" stroke-width="0.5" />
<line x1="219.1" y1="111" x2="219.1" y2="112.5" stroke="#000" stroke-width="0.5" />
<line x1="221.5" y1="111" x2="221.5" y2="112.5" stroke="#000" stroke-width="0.5" />
<line x1="223.6" y1="111" x2="223.6" y2="112.5" stroke="#000" stroke-width="0.5" />
<line x1="225.3" y1="111" x2="225.3" y2="112.5" stroke="#000" stroke-width="0.5" />
<line x1="226.9" y1="111" x2="226.9" y2="112.5" stroke="#000" stroke-width="0.5" />
<line x1="228.3" y1="111" x2="228.3" y2="114" stroke="#000" stroke-width="0.5" />
<line x1="237.5" y1="111" x2="237.5" y2="112.5" stroke="#000" stroke-width="0.5" />
<line x1="242.9" y1="111" x2="242.9" y2="112.5" stroke="#000" stroke-width="0.5" />
<line x1="246.7" y1="111" x2="246.7" y2="112.5" stroke="#000" stroke-width="0.5" />
<line x1="249.7" y1="111" x2="249.7" y2="112.5" stroke="#000" stroke-width="0.5" />
<line x1="252.1" y1="111" x2="252.1" y2="112.5" stroke="#000" stroke-width="0.5" />
<line x1="254.2" y1="111" x2="254.2" y2="112.5" stroke="#000" stroke-width="0.5" />
<line x1="255.9" y1="111" x2="255.9" y2="112.5" stroke="#000" stroke-width="0.5" />
<line x1="257.5" y1="111" x2="257.5" y2="112.5" stroke="#000" stroke-width="0.5" />
<line x1="258.9" y1="111" x2="258.9" y2="114" stroke="#000" stroke-width="0.5" />
<line x1="268.1" y1="111" x2="268.1" y2="112.5" stroke="#000" stroke-width="0.5" />
<line x1="273.5" y1="111" x2="273.5" y2="112.5" stroke="#000" stroke-width="0.5" />
<line x1="277.3" y1="111" x2="277.3" y2="112.5" stroke="#000" stroke-width="0.5" />
<line x1="280.3" y1="111" x2="280.3" y2="112.5" stroke="#000" stroke-width="0.5" />
<line x1="282.7" y1="111" x2="282.7" y2="112.5" stroke="#000" stroke-width="0.5" />
<line x1="284.8" y1="111" x2="284.8" y2="112.5" stroke="#000" stroke-width="0.5" />
<line x1="286.5" y1="111" x2="286.5" y2="112.5" stroke="#000" stroke-width="0.5" />
<line x1="288.1" y1="111" x2="288.1" y2="112.5" stroke="#000" stroke-width="0.5" />
<line x1="289.5" y1="111" x2="289.5" y2="114" stroke="#000" stroke-width="0.5" />
<line x1="298.7" y1="111" x2="298.7" y2="112.5" stroke="#000" stroke-width="0.5" />
<text x="197.7" y="119.5" font-family='"Liberation Serif", serif' font-size="5" font-weight="normal" text-anchor="middle" fill="#000" >10<tspan font-size="3" dy="-2.5">2</tspan></text>
<text x="228.3" y="119.5" font-family='"Liberation Serif", serif' font-size="5" font-weight="normal" text-anchor="middle" fill="#000" >10<tspan font-size="3" dy="-2.5">3</tspan></text>
<text x="258.8" y="119.5" font-family='"Liberation Serif", serif' font-size="5" font-weight="normal" text-anchor="middle" fill="#000" >10<tspan font-size="3" dy="-2.5">4</tspan></text>
<text x="289.3" y="119.5" font-family='"Liberation Serif", serif' font-size="5" font-weight="normal" text-anchor="middle" fill="#000" >10<tspan font-size="3" dy="-2.5">5</tspan></text>
<text x="241.3" y="127.3" font-family='"Liberation Serif", serif' font-size="5.6" font-weight="normal" text-anchor="middle" fill="#111" textLength="37" lengthAdjust="spacingAndGlyphs">CD8a APC-Cy7-A</text>
<line x1="177.7" y1="110.5" x2="180.5" y2="110.5" stroke="#000" stroke-width="0.7" />
<text x="0" y="0" transform="translate(177.2 110.5) rotate(-90)" font-family='"Liberation Sans", sans-serif' font-size="3.6" font-weight="bold" text-anchor="middle" fill="#111" >0</text>
<line x1="177.7" y1="103.9" x2="180.5" y2="103.9" stroke="#000" stroke-width="0.7" />
<text x="0" y="0" transform="translate(177.2 103.9) rotate(-90)" font-family='"Liberation Sans", sans-serif' font-size="3.6" font-weight="bold" text-anchor="middle" fill="#111" >100</text>
<line x1="177.7" y1="97.4" x2="180.5" y2="97.4" stroke="#000" stroke-width="0.7" />
<text x="0" y="0" transform="translate(177.2 97.4) rotate(-90)" font-family='"Liberation Sans", sans-serif' font-size="3.6" font-weight="bold" text-anchor="middle" fill="#111" >200</text>
<line x1="177.7" y1="90.8" x2="180.5" y2="90.8" stroke="#000" stroke-width="0.7" />
<text x="0" y="0" transform="translate(177.2 90.8) rotate(-90)" font-family='"Liberation Sans", sans-serif' font-size="3.6" font-weight="bold" text-anchor="middle" fill="#111" >300</text>
<line x1="177.7" y1="84.3" x2="180.5" y2="84.3" stroke="#000" stroke-width="0.7" />
<text x="0" y="0" transform="translate(177.2 84.3) rotate(-90)" font-family='"Liberation Sans", sans-serif' font-size="3.6" font-weight="bold" text-anchor="middle" fill="#111" >400</text>
<line x1="177.7" y1="77.7" x2="180.5" y2="77.7" stroke="#000" stroke-width="0.7" />
<text x="0" y="0" transform="translate(177.2 77.7) rotate(-90)" font-family='"Liberation Sans", sans-serif' font-size="3.6" font-weight="bold" text-anchor="middle" fill="#111" >500</text>
<line x1="177.7" y1="71.2" x2="180.5" y2="71.2" stroke="#000" stroke-width="0.7" />
<text x="0" y="0" transform="translate(177.2 71.2) rotate(-90)" font-family='"Liberation Sans", sans-serif' font-size="3.6" font-weight="bold" text-anchor="middle" fill="#111" >600</text>
<line x1="177.7" y1="64.6" x2="180.5" y2="64.6" stroke="#000" stroke-width="0.7" />
<text x="0" y="0" transform="translate(177.2 64.6) rotate(-90)" font-family='"Liberation Sans", sans-serif' font-size="3.6" font-weight="bold" text-anchor="middle" fill="#111" >700</text>
<line x1="177.7" y1="58.1" x2="180.5" y2="58.1" stroke="#000" stroke-width="0.7" />
<text x="0" y="0" transform="translate(177.2 58.1) rotate(-90)" font-family='"Liberation Sans", sans-serif' font-size="3.6" font-weight="bold" text-anchor="middle" fill="#111" >800</text>
<line x1="177.7" y1="51.5" x2="180.5" y2="51.5" stroke="#000" stroke-width="0.7" />
<text x="0" y="0" transform="translate(177.2 51.5) rotate(-90)" font-family='"Liberation Sans", sans-serif' font-size="3.6" font-weight="bold" text-anchor="middle" fill="#111" >900</text>
<text x="0" y="0" transform="translate(171.8 81.2) rotate(-90)" font-family='"Liberation Sans", sans-serif' font-size="5.4" font-weight="bold" text-anchor="middle" fill="#111" >Count</text>
<text x="238" y="141.8" font-family='"Liberation Serif", serif' font-size="13.5" font-weight="normal" text-anchor="middle" fill="#000"  stroke="#000" stroke-width="0.4">CD8</text>
<line x1="210" y1="122.5" x2="210" y2="143" stroke="#000" stroke-width="2" />
<path d="M205.8 142 L210 151 L214.2 142 Z" fill="#000"/>
<path d="M213 170h1v1h-1zM231 177h1v1h-1zM256 177h1v1h-1zM259 177h1v1h-1zM205 178h1v1h-1zM211 178h1v1h-1zM248 178h1v1h-1zM252 178h1v1h-1zM205 179h2v1h-2zM216 179h1v1h-1zM246 179h1v1h-1zM192 180h1v1h-1zM196 180h1v1h-1zM199 180h1v1h-1zM219 180h1v1h-1zM223 180h1v1h-1zM225 180h1v1h-1zM235 180h1v1h-1zM240 180h1v1h-1zM248 180h1v1h-1zM253 180h1v1h-1zM185 181h1v1h-1zM192 181h5v1h-5zM199 181h1v1h-1zM203 181h1v1h-1zM206 181h1v1h-1zM210 181h1v1h-1zM212 181h1v1h-1zM216 181h1v1h-1zM218 181h4v1h-4zM223 181h2v1h-2zM226 181h2v1h-2zM231 181h1v1h-1zM233 181h1v1h-1zM235 181h2v1h-2zM239 181h2v1h-2zM242 181h2v1h-2zM249 181h1v1h-1zM257 181h2v1h-2zM261 181h1v1h-1zM263 181h2v1h-2zM269 181h2v1h-2zM287 181h1v1h-1zM185 182h1v1h-1zM188 182h14v1h-14zM203 182h4v1h-4zM208 182h7v1h-7zM218 182h2v1h-2zM221 182h2v1h-2zM224 182h1v1h-1zM226 182h2v1h-2zM229 182h1v1h-1zM231 182h2v1h-2zM234 182h2v1h-2zM238 182h8v1h-8zM247 182h1v1h-1zM249 182h1v1h-1zM251 182h5v1h-5zM258 182h3v1h-3zM262 182h1v1h-1zM265 182h1v1h-1zM185 183h38v1h-38zM224 183h13v1h-13zM238 183h19v1h-19zM258 183h1v1h-1zM260 183h4v1h-4zM265 183h1v1h-1zM269 183h1v1h-1zM185 184h36v1h-36zM222 184h1v1h-1zM224 184h17v1h-17zM242 184h1v1h-1zM244 184h2v1h-2zM248 184h11v1h-11zM260 184h5v1h-5zM268 184h1v1h-1zM274 184h1v1h-1zM185 185h60v1h-60zM246 185h21v1h-21zM268 185h2v1h-2zM185 186h44v1h-44zM230 186h5v1h-5zM236 186h6v1h-6zM243 186h25v1h-25zM269 186h2v1h-2zM185 187h39v1h-39zM225 187h8v1h-8zM234 187h27v1h-27zM262 187h2v1h-2zM266 187h2v1h-2zM271 187h1v1h-1zM185 188h43v1h-43zM229 188h6v1h-6zM237 188h5v1h-5zM244 188h23v1h-23zM268 188h4v1h-4zM294 188h1v1h-1zM185 189h43v1h-43zM229 189h3v1h-3zM233 189h13v1h-13zM247 189h14v1h-14zM263 189h3v1h-3zM268 189h1v1h-1zM270 189h1v1h-1zM185 190h23v1h-23zM209 190h4v1h-4zM214 190h1v1h-1zM216 190h10v1h-10zM227 190h9v1h-9zM237 190h4v1h-4zM242 190h4v1h-4zM247 190h5v1h-5zM253 190h1v1h-1zM255 190h9v1h-9zM265 190h1v1h-1zM269 190h1v1h-1zM187 191h2v1h-2zM190 191h4v1h-4zM195 191h1v1h-1zM197 191h2v1h-2zM201 191h2v1h-2zM204 191h4v1h-4zM209 191h1v1h-1zM211 191h2v1h-2zM214 191h3v1h-3zM218 191h4v1h-4zM226 191h2v1h-2zM229 191h2v1h-2zM232 191h2v1h-2zM235 191h3v1h-3zM240 191h5v1h-5zM247 191h4v1h-4zM253 191h3v1h-3zM257 191h1v1h-1zM260 191h1v1h-1zM262 191h1v1h-1zM264 191h3v1h-3zM188 192h1v1h-1zM190 192h2v1h-2zM198 192h1v1h-1zM207 192h1v1h-1zM209 192h1v1h-1zM211 192h1v1h-1zM216 192h2v1h-2zM221 192h1v1h-1zM229 192h1v1h-1zM232 192h3v1h-3zM244 192h1v1h-1zM247 192h1v1h-1zM252 192h2v1h-2zM261 192h2v1h-2zM267 192h1v1h-1zM185 193h1v1h-1zM190 193h1v1h-1zM196 193h2v1h-2zM201 193h1v1h-1zM211 193h2v1h-2zM216 193h1v1h-1zM219 193h1v1h-1zM227 193h1v1h-1zM233 193h1v1h-1zM235 193h1v1h-1zM247 193h1v1h-1zM251 193h1v1h-1zM266 193h1v1h-1zM268 193h1v1h-1zM194 194h1v1h-1zM196 194h1v1h-1zM199 194h2v1h-2zM207 194h1v1h-1zM210 194h1v1h-1zM212 194h2v1h-2zM220 194h1v1h-1zM239 194h1v1h-1zM210 195h1v1h-1zM247 195h1v1h-1zM263 195h1v1h-1zM270 195h1v1h-1zM202 196h1v1h-1zM223 196h1v1h-1zM231 196h1v1h-1zM239 196h1v1h-1zM241 196h3v1h-3zM249 196h1v1h-1zM185 197h1v1h-1zM207 197h1v1h-1zM215 197h1v1h-1zM221 197h1v1h-1zM223 197h1v1h-1zM201 198h1v1h-1zM221 198h1v1h-1zM223 198h1v1h-1zM240 198h1v1h-1zM253 198h1v1h-1zM267 198h1v1h-1zM191 199h1v1h-1zM204 199h1v1h-1zM208 199h2v1h-2zM233 199h1v1h-1zM240 199h1v1h-1zM254 199h1v1h-1zM276 199h1v1h-1zM192 200h1v1h-1zM204 200h1v1h-1zM210 200h1v1h-1zM214 200h1v1h-1zM216 200h1v1h-1zM226 200h1v1h-1zM249 200h1v1h-1zM252 200h1v1h-1zM187 201h1v1h-1zM190 201h1v1h-1zM211 201h1v1h-1zM213 201h1v1h-1zM222 201h1v1h-1zM255 201h1v1h-1zM196 202h1v1h-1zM201 202h1v1h-1zM212 202h2v1h-2zM232 202h1v1h-1zM235 202h1v1h-1zM237 202h1v1h-1zM264 202h1v1h-1zM272 202h1v1h-1zM187 203h1v1h-1zM209 203h1v1h-1zM212 203h2v1h-2zM215 203h1v1h-1zM217 203h1v1h-1zM219 203h1v1h-1zM227 203h1v1h-1zM230 203h1v1h-1zM232 203h2v1h-2zM249 203h1v1h-1zM257 203h1v1h-1zM196 204h1v1h-1zM217 204h2v1h-2zM227 204h1v1h-1zM230 204h1v1h-1zM241 204h1v1h-1zM245 204h1v1h-1zM285 204h1v1h-1zM195 205h1v1h-1zM204 205h1v1h-1zM207 205h1v1h-1zM224 205h1v1h-1zM240 205h1v1h-1zM247 205h1v1h-1zM260 205h1v1h-1zM199 206h1v1h-1zM207 206h1v1h-1zM210 206h1v1h-1zM215 206h1v1h-1zM217 206h4v1h-4zM224 206h1v1h-1zM233 206h2v1h-2zM241 206h1v1h-1zM245 206h1v1h-1zM266 206h1v1h-1zM188 207h1v1h-1zM193 207h1v1h-1zM196 207h1v1h-1zM202 207h2v1h-2zM206 207h3v1h-3zM210 207h2v1h-2zM228 207h1v1h-1zM235 207h1v1h-1zM238 207h1v1h-1zM265 207h1v1h-1zM195 208h1v1h-1zM197 208h1v1h-1zM200 208h1v1h-1zM205 208h1v1h-1zM211 208h1v1h-1zM217 208h1v1h-1zM226 208h2v1h-2zM233 208h1v1h-1zM238 208h1v1h-1zM243 208h1v1h-1zM265 208h1v1h-1zM270 208h1v1h-1zM272 208h1v1h-1zM192 209h1v1h-1zM194 209h1v1h-1zM196 209h1v1h-1zM198 209h1v1h-1zM200 209h3v1h-3zM204 209h4v1h-4zM210 209h1v1h-1zM223 209h2v1h-2zM227 209h1v1h-1zM251 209h1v1h-1zM190 210h1v1h-1zM192 210h2v1h-2zM195 210h1v1h-1zM197 210h2v1h-2zM200 210h1v1h-1zM204 210h1v1h-1zM206 210h3v1h-3zM210 210h1v1h-1zM224 210h2v1h-2zM228 210h2v1h-2zM237 210h1v1h-1zM278 210h1v1h-1zM188 211h1v1h-1zM192 211h1v1h-1zM198 211h4v1h-4zM205 211h2v1h-2zM208 211h4v1h-4zM219 211h1v1h-1zM253 211h1v1h-1zM259 211h1v1h-1zM264 211h1v1h-1zM189 212h2v1h-2zM192 212h1v1h-1zM198 212h8v1h-8zM208 212h3v1h-3zM212 212h2v1h-2zM216 212h1v1h-1zM219 212h1v1h-1zM227 212h1v1h-1zM232 212h1v1h-1zM242 212h1v1h-1zM245 212h1v1h-1zM254 212h2v1h-2zM291 212h1v1h-1zM190 213h1v1h-1zM192 213h2v1h-2zM196 213h2v1h-2zM199 213h2v1h-2zM202 213h3v1h-3zM206 213h5v1h-5zM213 213h2v1h-2zM216 213h1v1h-1zM219 213h1v1h-1zM226 213h1v1h-1zM228 213h1v1h-1zM237 213h1v1h-1zM243 213h1v1h-1zM246 213h1v1h-1zM249 213h1v1h-1zM252 213h1v1h-1zM267 213h1v1h-1zM190 214h17v1h-17zM208 214h4v1h-4zM213 214h1v1h-1zM215 214h1v1h-1zM217 214h1v1h-1zM220 214h1v1h-1zM223 214h2v1h-2zM230 214h2v1h-2zM235 214h1v1h-1zM238 214h1v1h-1zM240 214h1v1h-1zM271 214h1v1h-1zM278 214h1v1h-1zM281 214h1v1h-1zM188 215h1v1h-1zM193 215h7v1h-7zM201 215h10v1h-10zM213 215h2v1h-2zM216 215h2v1h-2zM219 215h1v1h-1zM225 215h1v1h-1zM229 215h1v1h-1zM231 215h2v1h-2zM235 215h2v1h-2zM242 215h1v1h-1zM247 215h1v1h-1zM270 215h1v1h-1zM188 216h25v1h-25zM214 216h1v1h-1zM217 216h1v1h-1zM219 216h1v1h-1zM224 216h1v1h-1zM230 216h2v1h-2zM236 216h1v1h-1zM245 216h1v1h-1zM259 216h2v1h-2zM263 216h1v1h-1zM265 216h1v1h-1zM287 216h1v1h-1zM291 216h1v1h-1zM185 217h2v1h-2zM189 217h9v1h-9zM199 217h9v1h-9zM210 217h10v1h-10zM223 217h3v1h-3zM227 217h1v1h-1zM229 217h1v1h-1zM231 217h1v1h-1zM234 217h1v1h-1zM237 217h1v1h-1zM240 217h1v1h-1zM188 218h28v1h-28zM217 218h1v1h-1zM221 218h1v1h-1zM227 218h1v1h-1zM232 218h2v1h-2zM235 218h1v1h-1zM239 218h1v1h-1zM246 218h1v1h-1zM259 218h1v1h-1zM185 219h1v1h-1zM187 219h1v1h-1zM189 219h3v1h-3zM193 219h23v1h-23zM217 219h3v1h-3zM227 219h2v1h-2zM231 219h1v1h-1zM233 219h1v1h-1zM236 219h1v1h-1zM240 219h1v1h-1zM253 219h1v1h-1zM271 219h1v1h-1zM185 220h1v1h-1zM188 220h1v1h-1zM190 220h27v1h-27zM218 220h3v1h-3zM223 220h1v1h-1zM225 220h5v1h-5zM231 220h1v1h-1zM233 220h1v1h-1zM241 220h1v1h-1zM264 220h1v1h-1zM272 220h1v1h-1zM275 220h1v1h-1zM280 220h2v1h-2zM289 220h1v1h-1zM186 221h30v1h-30zM217 221h4v1h-4zM226 221h1v1h-1zM229 221h1v1h-1zM232 221h1v1h-1zM237 221h1v1h-1zM240 221h1v1h-1zM247 221h1v1h-1zM265 221h1v1h-1zM269 221h1v1h-1zM277 221h1v1h-1zM185 222h3v1h-3zM189 222h26v1h-26zM217 222h2v1h-2zM221 222h7v1h-7zM235 222h1v1h-1zM237 222h2v1h-2zM248 222h1v1h-1zM261 222h2v1h-2zM264 222h1v1h-1zM276 222h1v1h-1zM186 223h2v1h-2zM189 223h31v1h-31zM221 223h2v1h-2zM224 223h3v1h-3zM230 223h1v1h-1zM237 223h1v1h-1zM242 223h1v1h-1zM246 223h3v1h-3zM250 223h1v1h-1zM252 223h1v1h-1zM266 223h2v1h-2zM185 224h1v1h-1zM187 224h24v1h-24zM212 224h5v1h-5zM218 224h1v1h-1zM220 224h3v1h-3zM228 224h1v1h-1zM232 224h2v1h-2zM235 224h1v1h-1zM238 224h2v1h-2zM245 224h1v1h-1zM251 224h1v1h-1zM259 224h2v1h-2zM262 224h1v1h-1zM266 224h1v1h-1zM268 224h1v1h-1zM272 224h1v1h-1zM186 225h35v1h-35zM222 225h1v1h-1zM225 225h1v1h-1zM229 225h1v1h-1zM231 225h2v1h-2zM239 225h1v1h-1zM244 225h1v1h-1zM249 225h1v1h-1zM251 225h1v1h-1zM257 225h2v1h-2zM281 225h1v1h-1zM288 225h1v1h-1zM185 226h1v1h-1zM187 226h33v1h-33zM221 226h3v1h-3zM225 226h1v1h-1zM227 226h2v1h-2zM233 226h1v1h-1zM237 226h3v1h-3zM243 226h2v1h-2zM250 226h1v1h-1zM265 226h1v1h-1zM282 226h1v1h-1zM185 227h37v1h-37zM224 227h2v1h-2zM227 227h1v1h-1zM233 227h1v1h-1zM238 227h2v1h-2zM242 227h1v1h-1zM244 227h1v1h-1zM252 227h2v1h-2zM185 228h4v1h-4zM190 228h26v1h-26zM217 228h2v1h-2zM220 228h5v1h-5zM226 228h1v1h-1zM231 228h1v1h-1zM234 228h3v1h-3zM238 228h1v1h-1zM240 228h1v1h-1zM247 228h2v1h-2zM251 228h3v1h-3zM262 228h1v1h-1zM264 228h1v1h-1zM266 228h1v1h-1zM271 228h1v1h-1zM274 228h2v1h-2zM185 229h36v1h-36zM223 229h1v1h-1zM225 229h1v1h-1zM229 229h1v1h-1zM231 229h4v1h-4zM237 229h1v1h-1zM242 229h1v1h-1zM244 229h2v1h-2zM265 229h1v1h-1zM185 230h2v1h-2zM188 230h33v1h-33zM223 230h1v1h-1zM225 230h1v1h-1zM230 230h1v1h-1zM232 230h1v1h-1zM234 230h2v1h-2zM237 230h2v1h-2zM240 230h1v1h-1zM242 230h1v1h-1zM244 230h2v1h-2zM249 230h2v1h-2zM259 230h1v1h-1zM265 230h1v1h-1zM270 230h1v1h-1zM276 230h2v1h-2zM286 230h1v1h-1zM288 230h1v1h-1zM185 231h35v1h-35zM221 231h3v1h-3zM225 231h2v1h-2zM229 231h1v1h-1zM233 231h1v1h-1zM236 231h1v1h-1zM272 231h1v1h-1zM277 231h1v1h-1zM287 231h1v1h-1zM185 232h29v1h-29zM215 232h5v1h-5zM221 232h2v1h-2zM224 232h1v1h-1zM227 232h1v1h-1zM230 232h1v1h-1zM235 232h1v1h-1zM238 232h2v1h-2zM248 232h3v1h-3zM262 232h1v1h-1zM268 232h1v1h-1zM271 232h1v1h-1zM283 232h1v1h-1zM291 232h1v1h-1zM185 233h38v1h-38zM224 233h1v1h-1zM228 233h3v1h-3zM234 233h1v1h-1zM236 233h2v1h-2zM243 233h1v1h-1zM248 233h1v1h-1zM256 233h3v1h-3zM267 233h1v1h-1zM274 233h2v1h-2zM281 233h1v1h-1zM285 233h1v1h-1zM185 234h35v1h-35zM221 234h1v1h-1zM224 234h1v1h-1zM226 234h1v1h-1zM228 234h3v1h-3zM236 234h1v1h-1zM242 234h2v1h-2zM249 234h1v1h-1zM256 234h1v1h-1zM262 234h2v1h-2zM185 235h44v1h-44zM230 235h1v1h-1zM233 235h1v1h-1zM237 235h1v1h-1zM246 235h1v1h-1zM248 235h1v1h-1zM253 235h1v1h-1zM258 235h1v1h-1zM263 235h1v1h-1zM267 235h1v1h-1zM282 235h1v1h-1zM185 236h35v1h-35zM221 236h1v1h-1zM224 236h1v1h-1zM227 236h1v1h-1zM235 236h1v1h-1zM238 236h1v1h-1zM240 236h1v1h-1zM244 236h1v1h-1zM252 236h1v1h-1zM257 236h1v1h-1zM260 236h1v1h-1zM280 236h1v1h-1zM185 237h30v1h-30zM216 237h1v1h-1zM218 237h2v1h-2zM222 237h1v1h-1zM224 237h3v1h-3zM239 237h1v1h-1zM241 237h4v1h-4zM257 237h1v1h-1zM261 237h2v1h-2zM272 237h1v1h-1zM291 237h1v1h-1zM185 238h32v1h-32zM218 238h4v1h-4zM223 238h1v1h-1zM225 238h4v1h-4zM230 238h1v1h-1zM233 238h3v1h-3zM273 238h1v1h-1zM282 238h1v1h-1zM186 239h31v1h-31zM219 239h5v1h-5zM225 239h2v1h-2zM229 239h1v1h-1zM235 239h1v1h-1zM244 239h1v1h-1zM248 239h1v1h-1zM253 239h1v1h-1zM282 239h1v1h-1zM286 239h1v1h-1zM185 240h18v1h-18zM204 240h7v1h-7zM212 240h2v1h-2zM215 240h2v1h-2zM219 240h1v1h-1zM224 240h2v1h-2zM230 240h2v1h-2zM234 240h1v1h-1zM240 240h2v1h-2zM250 240h1v1h-1zM263 240h1v1h-1zM267 240h1v1h-1zM269 240h1v1h-1zM185 241h26v1h-26zM213 241h3v1h-3zM217 241h1v1h-1zM219 241h2v1h-2zM226 241h1v1h-1zM228 241h1v1h-1zM230 241h1v1h-1zM237 241h3v1h-3zM242 241h1v1h-1zM246 241h1v1h-1zM250 241h3v1h-3zM273 241h1v1h-1zM187 242h18v1h-18zM207 242h5v1h-5zM213 242h4v1h-4zM219 242h1v1h-1zM231 242h1v1h-1zM233 242h1v1h-1zM243 242h1v1h-1zM247 242h1v1h-1zM254 242h1v1h-1zM268 242h1v1h-1zM273 242h1v1h-1zM185 243h22v1h-22zM208 243h5v1h-5zM214 243h6v1h-6zM222 243h1v1h-1zM232 243h1v1h-1zM237 243h1v1h-1zM240 243h1v1h-1zM252 243h1v1h-1zM255 243h1v1h-1zM261 243h1v1h-1zM275 243h1v1h-1zM281 243h1v1h-1zM185 244h16v1h-16zM202 244h3v1h-3zM207 244h8v1h-8zM218 244h1v1h-1zM221 244h1v1h-1zM223 244h1v1h-1zM226 244h3v1h-3zM231 244h1v1h-1zM237 244h1v1h-1zM239 244h1v1h-1zM242 244h1v1h-1zM245 244h1v1h-1zM267 244h1v1h-1zM269 244h1v1h-1zM276 244h1v1h-1zM278 244h1v1h-1zM185 245h3v1h-3zM189 245h10v1h-10zM201 245h1v1h-1zM203 245h9v1h-9zM214 245h1v1h-1zM219 245h1v1h-1zM225 245h1v1h-1zM227 245h1v1h-1zM230 245h1v1h-1zM234 245h1v1h-1zM237 245h1v1h-1zM263 245h1v1h-1zM276 245h1v1h-1z" fill="#000" fill-opacity="1.0" transform="translate(0.5 0.5)"/>
<rect x="184.6" y="152.3" width="111.2" height="94.5" stroke="#000" stroke-width="1" fill="none" />
<rect x="184.6" y="172.3" width="33.1" height="25" stroke="#333" stroke-width="0.8" fill="none" />
<rect x="219.2" y="172.3" width="17.8" height="25" stroke="#333" stroke-width="0.8" fill="none" />
<rect x="247.7" y="173.5" width="25.6" height="24.8" stroke="#333" stroke-width="0.8" fill="none" />
<text x="201" y="166" font-family='"Liberation Sans", sans-serif' font-size="6" font-weight="normal" text-anchor="middle" fill="#333" >P3</text>
<text x="226.5" y="166" font-family='"Liberation Sans", sans-serif' font-size="6" font-weight="normal" text-anchor="middle" fill="#333" >P4</text>
<text x="263.6" y="166" font-family='"Liberation Sans", sans-serif' font-size="6" font-weight="normal" text-anchor="middle" fill="#333" >P5</text>
<line x1="185.5" y1="246.8" x2="185.5" y2="248.3" stroke="#000" stroke-width="0.5" />
<line x1="189.0" y1="246.8" x2="189.0" y2="248.3" stroke="#000" stroke-width="0.5" />
<line x1="191.7" y1="246.8" x2="191.7" y2="248.3" stroke="#000" stroke-width="0.5" />
<line x1="193.9" y1="246.8" x2="193.9" y2="248.3" stroke="#000" stroke-width="0.5" />
<line x1="195.7" y1="246.8" x2="195.7" y2="248.3" stroke="#000" stroke-width="0.5" />
<line x1="197.3" y1="246.8" x2="197.3" y2="248.3" stroke="#000" stroke-width="0.5" />
<line x1="198.7" y1="246.8" x2="198.7" y2="248.3" stroke="#000" stroke-width="0.5" />
<line x1="200.0" y1="246.8" x2="200.0" y2="249.8" stroke="#000" stroke-width="0.5" />
<line x1="208.3" y1="246.8" x2="208.3" y2="248.3" stroke="#000" stroke-width="0.5" />
<line x1="213.2" y1="246.8" x2="213.2" y2="248.3" stroke="#000" stroke-width="0.5" />
<line x1="216.7" y1="246.8" x2="216.7" y2="248.3" stroke="#000" stroke-width="0.5" />
<line x1="219.4" y1="246.8" x2="219.4" y2="248.3" stroke="#000" stroke-width="0.5" />
<line x1="221.6" y1="246.8" x2="221.6" y2="248.3" stroke="#000" stroke-width="0.5" />
<line x1="223.4" y1="246.8" x2="223.4" y2="248.3" stroke="#000" stroke-width="0.5" />
<line x1="225.0" y1="246.8" x2="225.0" y2="248.3" stroke="#000" stroke-width="0.5" />
<line x1="226.4" y1="246.8" x2="226.4" y2="248.3" stroke="#000" stroke-width="0.5" />
<line x1="227.7" y1="246.8" x2="227.7" y2="249.8" stroke="#000" stroke-width="0.5" />
<line x1="236.0" y1="246.8" x2="236.0" y2="248.3" stroke="#000" stroke-width="0.5" />
<line x1="240.9" y1="246.8" x2="240.9" y2="248.3" stroke="#000" stroke-width="0.5" />
<line x1="244.4" y1="246.8" x2="244.4" y2="248.3" stroke="#000" stroke-width="0.5" />
<line x1="247.1" y1="246.8" x2="247.1" y2="248.3" stroke="#000" stroke-width="0.5" />
<line x1="249.3" y1="246.8" x2="249.3" y2="248.3" stroke="#000" stroke-width="0.5" />
<line x1="251.1" y1="246.8" x2="251.1" y2="248.3" stroke="#000" stroke-width="0.5" />
<line x1="252.7" y1="246.8" x2="252.7" y2="248.3" stroke="#000" stroke-width="0.5" />
<line x1="254.1" y1="246.8" x2="254.1" y2="248.3" stroke="#000" stroke-width="0.5" />
<line x1="255.4" y1="246.8" x2="255.4" y2="249.8" stroke="#000" stroke-width="0.5" />
<line x1="263.7" y1="246.8" x2="263.7" y2="248.3" stroke="#000" stroke-width="0.5" />
<line x1="268.6" y1="246.8" x2="268.6" y2="248.3" stroke="#000" stroke-width="0.5" />
<line x1="272.1" y1="246.8" x2="272.1" y2="248.3" stroke="#000" stroke-width="0.5" />
<line x1="274.8" y1="246.8" x2="274.8" y2="248.3" stroke="#000" stroke-width="0.5" />
<line x1="277.0" y1="246.8" x2="277.0" y2="248.3" stroke="#000" stroke-width="0.5" />
<line x1="278.8" y1="246.8" x2="278.8" y2="248.3" stroke="#000" stroke-width="0.5" />
<line x1="280.4" y1="246.8" x2="280.4" y2="248.3" stroke="#000" stroke-width="0.5" />
<line x1="281.8" y1="246.8" x2="281.8" y2="248.3" stroke="#000" stroke-width="0.5" />
<line x1="283.1" y1="246.8" x2="283.1" y2="249.8" stroke="#000" stroke-width="0.5" />
<line x1="291.4" y1="246.8" x2="291.4" y2="248.3" stroke="#000" stroke-width="0.5" />
<text x="200" y="256" font-family='"Liberation Serif", serif' font-size="5" font-weight="normal" text-anchor="middle" fill="#000" >10<tspan font-size="3" dy="-2.5">2</tspan></text>
<text x="227.7" y="256" font-family='"Liberation Serif", serif' font-size="5" font-weight="normal" text-anchor="middle" fill="#000" >10<tspan font-size="3" dy="-2.5">3</tspan></text>
<text x="255.4" y="256" font-family='"Liberation Serif", serif' font-size="5" font-weight="normal" text-anchor="middle" fill="#000" >10<tspan font-size="3" dy="-2.5">4</tspan></text>
<text x="283.1" y="256" font-family='"Liberation Serif", serif' font-size="5" font-weight="normal" text-anchor="middle" fill="#000" >10<tspan font-size="3" dy="-2.5">5</tspan></text>
<text x="239.4" y="262.8" font-family='"Liberation Serif", serif' font-size="5.6" font-weight="normal" text-anchor="middle" fill="#111" textLength="36.5" lengthAdjust="spacingAndGlyphs">CD25 PE-Cy7-A</text>
<text x="241.5" y="278" font-family='"Liberation Serif", serif' font-size="13.5" font-weight="normal" text-anchor="middle" fill="#000"  stroke="#000" stroke-width="0.4">CD25</text>
<line x1="181.5" y1="160.8" x2="184.6" y2="160.8" stroke="#000" stroke-width="0.6" />
<text x="0" y="0" transform="translate(179.8 160.8) rotate(-90)" font-family='"Liberation Serif", serif' font-size="5.5" font-weight="normal" text-anchor="middle" fill="#111" >10<tspan font-size="3.5" dy="-2.5">5</tspan></text>
<line x1="181.5" y1="185" x2="184.6" y2="185" stroke="#000" stroke-width="0.6" />
<text x="0" y="0" transform="translate(179.8 185) rotate(-90)" font-family='"Liberation Serif", serif' font-size="5.5" font-weight="normal" text-anchor="middle" fill="#111" >10<tspan font-size="3.5" dy="-2.5">4</tspan></text>
<line x1="181.5" y1="209.3" x2="184.6" y2="209.3" stroke="#000" stroke-width="0.6" />
<text x="0" y="0" transform="translate(179.8 209.3) rotate(-90)" font-family='"Liberation Serif", serif' font-size="5.5" font-weight="normal" text-anchor="middle" fill="#111" >10<tspan font-size="3.5" dy="-2.5">3</tspan></text>
<line x1="181.5" y1="233.5" x2="184.6" y2="233.5" stroke="#000" stroke-width="0.6" />
<text x="0" y="0" transform="translate(179.8 233.5) rotate(-90)" font-family='"Liberation Serif", serif' font-size="5.5" font-weight="normal" text-anchor="middle" fill="#111" >10<tspan font-size="3.5" dy="-2.5">2</tspan></text>
<line x1="183" y1="246.2" x2="184.6" y2="246.2" stroke="#000" stroke-width="0.5" />
<line x1="183" y1="243.3" x2="184.6" y2="243.3" stroke="#000" stroke-width="0.5" />
<line x1="183" y1="240.9" x2="184.6" y2="240.9" stroke="#000" stroke-width="0.5" />
<line x1="183" y1="239.0" x2="184.6" y2="239.0" stroke="#000" stroke-width="0.5" />
<line x1="183" y1="237.4" x2="184.6" y2="237.4" stroke="#000" stroke-width="0.5" />
<line x1="183" y1="236.0" x2="184.6" y2="236.0" stroke="#000" stroke-width="0.5" />
<line x1="183" y1="234.8" x2="184.6" y2="234.8" stroke="#000" stroke-width="0.5" />
<line x1="183" y1="226.3" x2="184.6" y2="226.3" stroke="#000" stroke-width="0.5" />
<line x1="183" y1="222.0" x2="184.6" y2="222.0" stroke="#000" stroke-width="0.5" />
<line x1="183" y1="219.1" x2="184.6" y2="219.1" stroke="#000" stroke-width="0.5" />
<line x1="183" y1="216.7" x2="184.6" y2="216.7" stroke="#000" stroke-width="0.5" />
<line x1="183" y1="214.8" x2="184.6" y2="214.8" stroke="#000" stroke-width="0.5" />
<line x1="183" y1="213.2" x2="184.6" y2="213.2" stroke="#000" stroke-width="0.5" />
<line x1="183" y1="211.8" x2="184.6" y2="211.8" stroke="#000" stroke-width="0.5" />
<line x1="183" y1="210.6" x2="184.6" y2="210.6" stroke="#000" stroke-width="0.5" />
<line x1="183" y1="202.1" x2="184.6" y2="202.1" stroke="#000" stroke-width="0.5" />
<line x1="183" y1="197.8" x2="184.6" y2="197.8" stroke="#000" stroke-width="0.5" />
<line x1="183" y1="194.9" x2="184.6" y2="194.9" stroke="#000" stroke-width="0.5" />
<line x1="183" y1="192.5" x2="184.6" y2="192.5" stroke="#000" stroke-width="0.5" />
<line x1="183" y1="190.6" x2="184.6" y2="190.6" stroke="#000" stroke-width="0.5" />
<line x1="183" y1="189.0" x2="184.6" y2="189.0" stroke="#000" stroke-width="0.5" />
<line x1="183" y1="187.6" x2="184.6" y2="187.6" stroke="#000" stroke-width="0.5" />
<line x1="183" y1="186.4" x2="184.6" y2="186.4" stroke="#000" stroke-width="0.5" />
<line x1="183" y1="177.9" x2="184.6" y2="177.9" stroke="#000" stroke-width="0.5" />
<line x1="183" y1="173.6" x2="184.6" y2="173.6" stroke="#000" stroke-width="0.5" />
<line x1="183" y1="170.7" x2="184.6" y2="170.7" stroke="#000" stroke-width="0.5" />
<line x1="183" y1="168.3" x2="184.6" y2="168.3" stroke="#000" stroke-width="0.5" />
<line x1="183" y1="166.4" x2="184.6" y2="166.4" stroke="#000" stroke-width="0.5" />
<line x1="183" y1="164.8" x2="184.6" y2="164.8" stroke="#000" stroke-width="0.5" />
<line x1="183" y1="163.4" x2="184.6" y2="163.4" stroke="#000" stroke-width="0.5" />
<line x1="183" y1="162.2" x2="184.6" y2="162.2" stroke="#000" stroke-width="0.5" />
<line x1="183" y1="153.7" x2="184.6" y2="153.7" stroke="#000" stroke-width="0.5" />
<text x="0" y="0" transform="translate(175 201.8) rotate(-90)" font-family='"Liberation Serif", serif' font-size="5.6" font-weight="normal" text-anchor="middle" fill="#111" textLength="36.5" lengthAdjust="spacingAndGlyphs">CD4 Alexa 700-A</text>
<text x="0" y="0" transform="translate(165.3 199.9) rotate(-90)" font-family='"Liberation Serif", serif' font-size="14" font-weight="normal" text-anchor="middle" fill="#000"  stroke="#000" stroke-width="0.4">CD4</text>
<path d="M338.7 82.5 C331 83 325.3 86 325.3 95 L325.3 158 C325.3 166 320 170.5 311.3 171.3 C320 172 325.3 176.5 325.3 184.5 L325.3 248 C325.3 256 331 259.2 338.7 259.7" fill="none" stroke="#222" stroke-width="1.1"/>
<path d="M370.6,103.1 L370.6,68.7 L372.0,68.7 L372.2,64.0 L373.4,64.0 L373.7,37.9 L375.2,37.9 L375.5,50.0 L376.2,52.0 L376.4,73.0 L377.5,73.0 L378.6,73.0 L378.8,37.9 L379.6,37.9 L380.5,37.9 L381.3,37.9 L382.1,37.9 L382.9,37.9 L383.8,37.9 L384.6,37.9 L385.4,37.9 L386.3,37.9 L387.1,37.9 L387.9,37.9 L388.8,37.9 L389.6,37.9 L390.4,37.9 L391.2,37.9 L392.1,37.9 L392.9,37.9 L393.7,37.9 L394.6,37.9 L395.4,37.9 L396.2,37.9 L397.0,37.9 L397.9,37.9 L398.7,37.9 L399.7,54.4 L400.7,62.6 L401.7,63.6 L402.8,64.1 L403.8,64.6 L404.3,77.3 L405.8,81.1 L406.9,85.9 L407.9,86.9 L408.8,89.6 L410.3,93.5 L411.7,91.2 L413.2,94.7 L414.6,96.3 L415.6,92.6 L416.5,88.6 L418.0,95.4 L419.2,93.5 L420.4,90.0 L421.8,96.2 L422.8,95.5 L423.8,94.3 L424.8,94.3 L425.7,95.3 L426.8,90.9 L427.8,87.4 L429.0,95.9 L430.0,96.3 L431.0,96.4 L431.9,96.9 L432.9,97.4 L433.8,98.0 L434.8,97.9 L435.8,97.9 L436.8,99.3 L437.7,101.8 L438.6,100.0 L439.6,99.8 L441.0,101.9 L442.0,101.3 L443.0,100.3 L444.4,102.0 L445.4,102.1 L446.3,102.8 L447.1,102.8 L447.9,102.8 L448.7,102.8 L449.5,102.8 L450.3,102.8 L451.1,102.8 L451.9,102.8 L452.7,102.8 L453.5,102.8 L454.3,102.8 L455.1,102.8 L455.9,102.8 L456.7,102.8 L457.5,102.8 L458.3,102.8 L459.1,102.8 L459.9,102.8 L460.7,102.8 L461.5,102.8 L462.3,102.8 L463.1,102.8 L463.9,102.8 L464.7,102.8 L465.5,102.8 L466.3,102.8 L467.1,102.8 L467.9,102.8 L468.7,102.8 L469.5,102.8 L470.3,102.8 L471.1,102.8 L471.9,102.8 L472.7,102.8 L473.5,102.8 L474.3,102.8 L475.1,102.8 L475.9,102.8 L476.7,102.8 L477.5,102.8 L478.3,102.8 L479.1,102.8 L480.0,102.8 L480.8,102.8 L481.6,102.8 L482.4,102.8 L483.2,102.8 L484.0,102.8 L484.8,102.8 L485.6,102.8 L486.4,102.8 L487.2,102.8 L488.0,102.8 L488.8,102.8 L489.6,102.8 L490.4,102.8 L491.2,102.8 L492.0,102.8 L492.8,102.8 L493.6,102.8 L494.4,102.8 L495.2,102.8 L496.0,102.8 L496.8,102.8 L497.6,102.8 L498.4,102.8 L499.2,102.8 L500.0,102.8 L500.8,102.8 L501.6,102.8 L502.4,102.8 L503.2,102.8 L504.0,102.8 L504.8,102.8 L505.6,102.8 L506.4,102.8 L507.2,102.8 L508.0,102.8 L508.8,102.8 L509.6,102.8 L510.4,102.8 L511.2,102.8 L512.0,102.8 L512.0,103.1 Z" fill="#666" stroke="#000" stroke-width="0.8" stroke-linejoin="bevel"/>
<rect x="370.2" y="37.7" width="142.40000000000003" height="65.39999999999999" stroke="#000" stroke-width="1" fill="none" />
<line x1="412.8" y1="37.7" x2="412.8" y2="103.1" stroke="#333" stroke-width="0.8" />
<line x1="370.2" y1="55.2" x2="412.8" y2="55.2" stroke="#333" stroke-width="0.8" />
<line x1="412.8" y1="69.2" x2="512.6" y2="69.2" stroke="#333" stroke-width="0.8" />
<text x="439.5" y="55.8" font-family='"Liberation Serif", serif' font-size="10.8" font-weight="bold" text-anchor="start" fill="#000" >CD4<tspan font-size="8.5" dy="-3.2">+</tspan><tspan dy="3.2">CD25</tspan><tspan font-size="8.5" dy="-3.6">-</tspan></text>
<text x="455" y="88.2" font-family='"Liberation Serif", serif' font-size="12" font-weight="bold" text-anchor="start" fill="#000" >38%</text>
<text x="442.5" y="66.5" font-family='"Liberation Sans", sans-serif' font-size="6.5" font-weight="normal" text-anchor="start" fill="#333" >P6</text>
<line x1="374.8" y1="103.1" x2="374.8" y2="104.6" stroke="#000" stroke-width="0.5" />
<line x1="378.2" y1="103.1" x2="378.2" y2="104.6" stroke="#000" stroke-width="0.5" />
<line x1="381.1" y1="103.1" x2="381.1" y2="104.6" stroke="#000" stroke-width="0.5" />
<line x1="383.5" y1="103.1" x2="383.5" y2="104.6" stroke="#000" stroke-width="0.5" />
<line x1="385.5" y1="103.1" x2="385.5" y2="104.6" stroke="#000" stroke-width="0.5" />
<line x1="387.4" y1="103.1" x2="387.4" y2="104.6" stroke="#000" stroke-width="0.5" />
<line x1="389.0" y1="103.1" x2="389.0" y2="106.1" stroke="#000" stroke-width="0.5" />
<line x1="399.8" y1="103.1" x2="399.8" y2="104.6" stroke="#000" stroke-width="0.5" />
<line x1="406.1" y1="103.1" x2="406.1" y2="104.6" stroke="#000" stroke-width="0.5" />
<line x1="410.6" y1="103.1" x2="410.6" y2="104.6" stroke="#000" stroke-width="0.5" />
<line x1="414.0" y1="103.1" x2="414.0" y2="104.6" stroke="#000" stroke-width="0.5" />
<line x1="416.9" y1="103.1" x2="416.9" y2="104.6" stroke="#000" stroke-width="0.5" />
<line x1="419.3" y1="103.1" x2="419.3" y2="104.6" stroke="#000" stroke-width="0.5" />
<line x1="421.3" y1="103.1" x2="421.3" y2="104.6" stroke="#000" stroke-width="0.5" />
<line x1="423.2" y1="103.1" x2="423.2" y2="104.6" stroke="#000" stroke-width="0.5" />
<line x1="424.8" y1="103.1" x2="424.8" y2="106.1" stroke="#000" stroke-width="0.5" />
<line x1="435.6" y1="103.1" x2="435.6" y2="104.6" stroke="#000" stroke-width="0.5" />
<line x1="441.9" y1="103.1" x2="441.9" y2="104.6" stroke="#000" stroke-width="0.5" />
<line x1="446.4" y1="103.1" x2="446.4" y2="104.6" stroke="#000" stroke-width="0.5" />
<line x1="449.8" y1="103.1" x2="449.8" y2="104.6" stroke="#000" stroke-width="0.5" />
<line x1="452.7" y1="103.1" x2="452.7" y2="104.6" stroke="#000" stroke-width="0.5" />
<line x1="455.1" y1="103.1" x2="455.1" y2="104.6" stroke="#000" stroke-width="0.5" />
<line x1="457.1" y1="103.1" x2="457.1" y2="104.6" stroke="#000" stroke-width="0.5" />
<line x1="459.0" y1="103.1" x2="459.0" y2="104.6" stroke="#000" stroke-width="0.5" />
<line x1="460.6" y1="103.1" x2="460.6" y2="106.1" stroke="#000" stroke-width="0.5" />
<line x1="471.4" y1="103.1" x2="471.4" y2="104.6" stroke="#000" stroke-width="0.5" />
<line x1="477.7" y1="103.1" x2="477.7" y2="104.6" stroke="#000" stroke-width="0.5" />
<line x1="482.2" y1="103.1" x2="482.2" y2="104.6" stroke="#000" stroke-width="0.5" />
<line x1="485.6" y1="103.1" x2="485.6" y2="104.6" stroke="#000" stroke-width="0.5" />
<line x1="488.5" y1="103.1" x2="488.5" y2="104.6" stroke="#000" stroke-width="0.5" />
<line x1="490.9" y1="103.1" x2="490.9" y2="104.6" stroke="#000" stroke-width="0.5" />
<line x1="492.9" y1="103.1" x2="492.9" y2="104.6" stroke="#000" stroke-width="0.5" />
<line x1="494.8" y1="103.1" x2="494.8" y2="104.6" stroke="#000" stroke-width="0.5" />
<line x1="496.4" y1="103.1" x2="496.4" y2="106.1" stroke="#000" stroke-width="0.5" />
<line x1="507.2" y1="103.1" x2="507.2" y2="104.6" stroke="#000" stroke-width="0.5" />
<text x="389" y="112.6" font-family='"Liberation Serif", serif' font-size="5.5" font-weight="normal" text-anchor="middle" fill="#111" >10<tspan font-size="3.5" dy="-2.5">2</tspan></text>
<text x="424.8" y="112.6" font-family='"Liberation Serif", serif' font-size="5.5" font-weight="normal" text-anchor="middle" fill="#111" >10<tspan font-size="3.5" dy="-2.5">3</tspan></text>
<text x="460.3" y="112.6" font-family='"Liberation Serif", serif' font-size="5.5" font-weight="normal" text-anchor="middle" fill="#111" >10<tspan font-size="3.5" dy="-2.5">4</tspan></text>
<text x="495.8" y="112.6" font-family='"Liberation Serif", serif' font-size="5.5" font-weight="normal" text-anchor="middle" fill="#111" >10<tspan font-size="3.5" dy="-2.5">5</tspan></text>
<line x1="367.4" y1="102.6" x2="370.2" y2="102.6" stroke="#000" stroke-width="0.7" />
<text x="0" y="0" transform="translate(365.0 102.6) rotate(-90)" font-family='"Liberation Sans", sans-serif' font-size="4.6" font-weight="bold" text-anchor="middle" fill="#111" >0</text>
<line x1="367.4" y1="96.2" x2="370.2" y2="96.2" stroke="#000" stroke-width="0.7" />
<text x="0" y="0" transform="translate(365.0 96.2) rotate(-90)" font-family='"Liberation Sans", sans-serif' font-size="4.6" font-weight="bold" text-anchor="middle" fill="#111" >5</text>
<line x1="367.4" y1="89.7" x2="370.2" y2="89.7" stroke="#000" stroke-width="0.7" />
<text x="0" y="0" transform="translate(365.0 89.7) rotate(-90)" font-family='"Liberation Sans", sans-serif' font-size="4.6" font-weight="bold" text-anchor="middle" fill="#111" >10</text>
<line x1="367.4" y1="83.3" x2="370.2" y2="83.3" stroke="#000" stroke-width="0.7" />
<text x="0" y="0" transform="translate(365.0 83.3) rotate(-90)" font-family='"Liberation Sans", sans-serif' font-size="4.6" font-weight="bold" text-anchor="middle" fill="#111" >15</text>
<line x1="367.4" y1="76.8" x2="370.2" y2="76.8" stroke="#000" stroke-width="0.7" />
<text x="0" y="0" transform="translate(365.0 76.8) rotate(-90)" font-family='"Liberation Sans", sans-serif' font-size="4.6" font-weight="bold" text-anchor="middle" fill="#111" >20</text>
<line x1="367.4" y1="70.4" x2="370.2" y2="70.4" stroke="#000" stroke-width="0.7" />
<text x="0" y="0" transform="translate(365.0 70.4) rotate(-90)" font-family='"Liberation Sans", sans-serif' font-size="4.6" font-weight="bold" text-anchor="middle" fill="#111" >25</text>
<line x1="367.4" y1="64.0" x2="370.2" y2="64.0" stroke="#000" stroke-width="0.7" />
<text x="0" y="0" transform="translate(365.0 64.0) rotate(-90)" font-family='"Liberation Sans", sans-serif' font-size="4.6" font-weight="bold" text-anchor="middle" fill="#111" >30</text>
<line x1="367.4" y1="57.5" x2="370.2" y2="57.5" stroke="#000" stroke-width="0.7" />
<text x="0" y="0" transform="translate(365.0 57.5) rotate(-90)" font-family='"Liberation Sans", sans-serif' font-size="4.6" font-weight="bold" text-anchor="middle" fill="#111" >35</text>
<line x1="367.4" y1="51.1" x2="370.2" y2="51.1" stroke="#000" stroke-width="0.7" />
<text x="0" y="0" transform="translate(365.0 51.1) rotate(-90)" font-family='"Liberation Sans", sans-serif' font-size="4.6" font-weight="bold" text-anchor="middle" fill="#111" >40</text>
<line x1="367.4" y1="44.6" x2="370.2" y2="44.6" stroke="#000" stroke-width="0.7" />
<text x="0" y="0" transform="translate(365.0 44.6) rotate(-90)" font-family='"Liberation Sans", sans-serif' font-size="4.6" font-weight="bold" text-anchor="middle" fill="#111" >45</text>
<line x1="367.4" y1="38.2" x2="370.2" y2="38.2" stroke="#000" stroke-width="0.7" />
<text x="0" y="0" transform="translate(365.0 38.2) rotate(-90)" font-family='"Liberation Sans", sans-serif' font-size="4.6" font-weight="bold" text-anchor="middle" fill="#111" >50</text>
<text x="0" y="0" transform="translate(357.9 71.4) rotate(-90)" font-family='"Liberation Sans", sans-serif' font-size="7.0" font-weight="bold" text-anchor="middle" fill="#111" >Count</text>
<path d="M372.6,184.4 L372.6,183.6 L373.5,183.5 L374.3,183.4 L375.1,183.3 L376.0,182.5 L376.8,181.3 L377.6,180.4 L378.4,183.0 L379.2,181.6 L380.0,184.0 L380.8,182.9 L381.6,182.5 L382.4,178.0 L383.2,180.2 L384.0,180.1 L384.9,177.1 L385.7,179.2 L386.6,178.4 L387.4,177.7 L388.3,180.7 L389.1,178.7 L390.0,176.9 L390.8,178.2 L391.7,181.0 L392.5,178.2 L393.3,177.0 L394.2,176.3 L395.0,178.6 L395.8,179.2 L396.7,177.7 L397.5,179.8 L398.3,178.0 L399.2,179.2 L400.0,177.8 L400.8,177.8 L401.6,176.6 L402.4,174.9 L403.2,177.8 L404.0,178.4 L404.8,177.4 L405.6,175.5 L406.4,173.5 L407.2,173.7 L408.0,175.3 L408.8,175.4 L409.6,171.7 L410.4,176.1 L411.2,174.5 L412.0,174.2 L412.8,175.2 L413.6,173.0 L414.4,172.1 L415.2,170.4 L416.0,172.5 L416.8,172.4 L417.6,173.7 L418.4,173.5 L419.2,171.1 L420.0,172.8 L420.8,173.4 L421.7,170.6 L422.5,171.6 L423.3,171.5 L424.2,170.9 L425.0,170.8 L425.8,169.7 L426.7,169.7 L427.5,170.5 L428.3,172.1 L429.2,172.7 L430.0,173.7 L430.8,171.2 L431.6,172.7 L432.4,172.7 L433.2,171.5 L434.0,176.0 L434.8,173.1 L435.6,175.5 L436.4,176.0 L437.2,176.9 L438.0,177.7 L439.0,179.2 L440.0,176.7 L441.0,179.4 L442.0,178.4 L443.0,179.1 L444.0,182.5 L445.0,183.0 L446.0,183.5 L447.0,181.0 L448.1,183.4 L449.3,183.8 L450.1,183.8 L450.9,183.8 L451.7,183.8 L452.5,183.8 L453.3,183.8 L454.2,183.8 L455.0,183.8 L455.8,183.8 L456.6,183.8 L457.4,183.8 L458.2,183.8 L459.0,183.8 L459.8,183.8 L460.6,183.8 L461.4,183.8 L462.2,183.8 L463.1,183.8 L463.9,183.8 L464.7,183.8 L465.5,183.8 L466.3,183.8 L467.1,183.8 L467.9,183.8 L468.7,183.8 L469.5,183.8 L470.3,183.8 L471.1,183.8 L472.0,183.8 L472.8,183.8 L473.6,183.8 L474.4,183.8 L475.2,183.8 L476.0,183.8 L477.0,182.5 L478.0,183.8 L478.8,183.8 L479.6,183.8 L480.4,183.8 L481.3,183.8 L482.1,183.8 L482.9,183.8 L483.7,183.8 L484.5,183.8 L485.3,183.8 L486.1,183.8 L486.9,183.8 L487.8,183.8 L488.6,183.8 L489.4,183.8 L490.2,183.8 L491.0,183.8 L491.8,183.8 L492.6,183.8 L493.5,183.8 L494.3,183.8 L495.1,183.8 L495.9,183.8 L496.7,183.8 L497.5,183.8 L498.3,183.8 L499.1,183.8 L500.0,183.8 L500.8,183.8 L501.6,183.8 L502.4,183.8 L503.2,183.8 L504.0,183.8 L504.8,183.8 L505.7,183.8 L506.5,183.8 L507.3,183.8 L508.1,183.8 L508.9,183.8 L509.7,183.8 L510.5,183.8 L511.3,183.8 L512.2,183.8 L513.0,183.8 L513.8,183.8 L514.6,183.8 L514.6,184.4 Z" fill="#666" stroke="#000" stroke-width="0.8" stroke-linejoin="bevel"/>
<rect x="372.3" y="122.4" width="142.8" height="62.0" stroke="#000" stroke-width="1" fill="none" />
<line x1="407.7" y1="122.4" x2="407.7" y2="184.4" stroke="#333" stroke-width="0.8" />
<line x1="372.3" y1="140.1" x2="407.7" y2="140.1" stroke="#333" stroke-width="0.8" />
<line x1="407.7" y1="148.0" x2="515.1" y2="148.0" stroke="#333" stroke-width="0.8" />
<text x="428.6" y="139.3" font-family='"Liberation Serif", serif' font-size="10.8" font-weight="bold" text-anchor="start" fill="#000" >CD4<tspan font-size="8.5" dy="-3.2">+</tspan><tspan dy="3.2">CD25</tspan><tspan font-size="8.5" dy="-3.6">dim</tspan></text>
<text x="455" y="158.4" font-family='"Liberation Serif", serif' font-size="12" font-weight="bold" text-anchor="start" fill="#000" >67%</text>
<text x="414.5" y="156" font-family='"Liberation Sans", sans-serif' font-size="6.5" font-weight="normal" text-anchor="start" fill="#333" >P7</text>
<line x1="376.8" y1="184.4" x2="376.8" y2="185.9" stroke="#000" stroke-width="0.5" />
<line x1="380.2" y1="184.4" x2="380.2" y2="185.9" stroke="#000" stroke-width="0.5" />
<line x1="383.1" y1="184.4" x2="383.1" y2="185.9" stroke="#000" stroke-width="0.5" />
<line x1="385.5" y1="184.4" x2="385.5" y2="185.9" stroke="#000" stroke-width="0.5" />
<line x1="387.5" y1="184.4" x2="387.5" y2="185.9" stroke="#000" stroke-width="0.5" />
<line x1="389.4" y1="184.4" x2="389.4" y2="185.9" stroke="#000" stroke-width="0.5" />
<line x1="391.0" y1="184.4" x2="391.0" y2="187.4" stroke="#000" stroke-width="0.5" />
<line x1="401.8" y1="184.4" x2="401.8" y2="185.9" stroke="#000" stroke-width="0.5" />
<line x1="408.1" y1="184.4" x2="408.1" y2="185.9" stroke="#000" stroke-width="0.5" />
<line x1="412.6" y1="184.4" x2="412.6" y2="185.9" stroke="#000" stroke-width="0.5" />
<line x1="416.0" y1="184.4" x2="416.0" y2="185.9" stroke="#000" stroke-width="0.5" />
<line x1="418.9" y1="184.4" x2="418.9" y2="185.9" stroke="#000" stroke-width="0.5" />
<line x1="421.3" y1="184.4" x2="421.3" y2="185.9" stroke="#000" stroke-width="0.5" />
<line x1="423.3" y1="184.4" x2="423.3" y2="185.9" stroke="#000" stroke-width="0.5" />
<line x1="425.2" y1="184.4" x2="425.2" y2="185.9" stroke="#000" stroke-width="0.5" />
<line x1="426.8" y1="184.4" x2="426.8" y2="187.4" stroke="#000" stroke-width="0.5" />
<line x1="437.6" y1="184.4" x2="437.6" y2="185.9" stroke="#000" stroke-width="0.5" />
<line x1="443.9" y1="184.4" x2="443.9" y2="185.9" stroke="#000" stroke-width="0.5" />
<line x1="448.4" y1="184.4" x2="448.4" y2="185.9" stroke="#000" stroke-width="0.5" />
<line x1="451.8" y1="184.4" x2="451.8" y2="185.9" stroke="#000" stroke-width="0.5" />
<line x1="454.7" y1="184.4" x2="454.7" y2="185.9" stroke="#000" stroke-width="0.5" />
<line x1="457.1" y1="184.4" x2="457.1" y2="185.9" stroke="#000" stroke-width="0.5" />
<line x1="459.1" y1="184.4" x2="459.1" y2="185.9" stroke="#000" stroke-width="0.5" />
<line x1="461.0" y1="184.4" x2="461.0" y2="185.9" stroke="#000" stroke-width="0.5" />
<line x1="462.6" y1="184.4" x2="462.6" y2="187.4" stroke="#000" stroke-width="0.5" />
<line x1="473.4" y1="184.4" x2="473.4" y2="185.9" stroke="#000" stroke-width="0.5" />
<line x1="479.7" y1="184.4" x2="479.7" y2="185.9" stroke="#000" stroke-width="0.5" />
<line x1="484.2" y1="184.4" x2="484.2" y2="185.9" stroke="#000" stroke-width="0.5" />
<line x1="487.6" y1="184.4" x2="487.6" y2="185.9" stroke="#000" stroke-width="0.5" />
<line x1="490.5" y1="184.4" x2="490.5" y2="185.9" stroke="#000" stroke-width="0.5" />
<line x1="492.9" y1="184.4" x2="492.9" y2="185.9" stroke="#000" stroke-width="0.5" />
<line x1="494.9" y1="184.4" x2="494.9" y2="185.9" stroke="#000" stroke-width="0.5" />
<line x1="496.8" y1="184.4" x2="496.8" y2="185.9" stroke="#000" stroke-width="0.5" />
<line x1="498.4" y1="184.4" x2="498.4" y2="187.4" stroke="#000" stroke-width="0.5" />
<line x1="509.2" y1="184.4" x2="509.2" y2="185.9" stroke="#000" stroke-width="0.5" />
<text x="391" y="193.9" font-family='"Liberation Serif", serif' font-size="5.5" font-weight="normal" text-anchor="middle" fill="#111" >10<tspan font-size="3.5" dy="-2.5">2</tspan></text>
<text x="426.8" y="193.9" font-family='"Liberation Serif", serif' font-size="5.5" font-weight="normal" text-anchor="middle" fill="#111" >10<tspan font-size="3.5" dy="-2.5">3</tspan></text>
<text x="462.4" y="193.9" font-family='"Liberation Serif", serif' font-size="5.5" font-weight="normal" text-anchor="middle" fill="#111" >10<tspan font-size="3.5" dy="-2.5">4</tspan></text>
<text x="498" y="193.9" font-family='"Liberation Serif", serif' font-size="5.5" font-weight="normal" text-anchor="middle" fill="#111" >10<tspan font-size="3.5" dy="-2.5">5</tspan></text>
<line x1="369.5" y1="183.9" x2="372.3" y2="183.9" stroke="#000" stroke-width="0.7" />
<text x="0" y="0" transform="translate(367.1 183.9) rotate(-90)" font-family='"Liberation Sans", sans-serif' font-size="4.6" font-weight="bold" text-anchor="middle" fill="#111" >0</text>
<line x1="369.5" y1="177.8" x2="372.3" y2="177.8" stroke="#000" stroke-width="0.7" />
<text x="0" y="0" transform="translate(367.1 177.8) rotate(-90)" font-family='"Liberation Sans", sans-serif' font-size="4.6" font-weight="bold" text-anchor="middle" fill="#111" >5</text>
<line x1="369.5" y1="171.7" x2="372.3" y2="171.7" stroke="#000" stroke-width="0.7" />
<text x="0" y="0" transform="translate(367.1 171.7) rotate(-90)" font-family='"Liberation Sans", sans-serif' font-size="4.6" font-weight="bold" text-anchor="middle" fill="#111" >10</text>
<line x1="369.5" y1="165.6" x2="372.3" y2="165.6" stroke="#000" stroke-width="0.7" />
<text x="0" y="0" transform="translate(367.1 165.6) rotate(-90)" font-family='"Liberation Sans", sans-serif' font-size="4.6" font-weight="bold" text-anchor="middle" fill="#111" >15</text>
<line x1="369.5" y1="159.5" x2="372.3" y2="159.5" stroke="#000" stroke-width="0.7" />
<text x="0" y="0" transform="translate(367.1 159.5) rotate(-90)" font-family='"Liberation Sans", sans-serif' font-size="4.6" font-weight="bold" text-anchor="middle" fill="#111" >20</text>
<line x1="369.5" y1="153.4" x2="372.3" y2="153.4" stroke="#000" stroke-width="0.7" />
<text x="0" y="0" transform="translate(367.1 153.4) rotate(-90)" font-family='"Liberation Sans", sans-serif' font-size="4.6" font-weight="bold" text-anchor="middle" fill="#111" >25</text>
<line x1="369.5" y1="147.3" x2="372.3" y2="147.3" stroke="#000" stroke-width="0.7" />
<text x="0" y="0" transform="translate(367.1 147.3) rotate(-90)" font-family='"Liberation Sans", sans-serif' font-size="4.6" font-weight="bold" text-anchor="middle" fill="#111" >30</text>
<line x1="369.5" y1="141.2" x2="372.3" y2="141.2" stroke="#000" stroke-width="0.7" />
<text x="0" y="0" transform="translate(367.1 141.2) rotate(-90)" font-family='"Liberation Sans", sans-serif' font-size="4.6" font-weight="bold" text-anchor="middle" fill="#111" >35</text>
<line x1="369.5" y1="135.1" x2="372.3" y2="135.1" stroke="#000" stroke-width="0.7" />
<text x="0" y="0" transform="translate(367.1 135.1) rotate(-90)" font-family='"Liberation Sans", sans-serif' font-size="4.6" font-weight="bold" text-anchor="middle" fill="#111" >40</text>
<line x1="369.5" y1="129.0" x2="372.3" y2="129.0" stroke="#000" stroke-width="0.7" />
<text x="0" y="0" transform="translate(367.1 129.0) rotate(-90)" font-family='"Liberation Sans", sans-serif' font-size="4.6" font-weight="bold" text-anchor="middle" fill="#111" >45</text>
<line x1="369.5" y1="122.9" x2="372.3" y2="122.9" stroke="#000" stroke-width="0.7" />
<text x="0" y="0" transform="translate(367.1 122.9) rotate(-90)" font-family='"Liberation Sans", sans-serif' font-size="4.6" font-weight="bold" text-anchor="middle" fill="#111" >50</text>
<text x="0" y="0" transform="translate(360.0 154.4) rotate(-90)" font-family='"Liberation Sans", sans-serif' font-size="5.5" font-weight="bold" text-anchor="middle" fill="#111" >Count</text>
<path d="M373.5,264.6 L373.5,263.5 L374.3,263.5 L375.1,263.4 L375.9,263.4 L376.8,263.7 L377.6,263.6 L378.4,262.6 L379.2,262.5 L380.0,263.5 L380.8,263.8 L381.7,262.6 L382.5,262.6 L383.3,263.5 L384.2,263.1 L385.0,262.9 L385.8,262.8 L386.7,262.3 L387.5,263.0 L388.3,262.7 L389.2,262.8 L390.0,263.1 L390.8,263.3 L391.6,263.1 L392.4,263.2 L393.2,261.8 L394.0,262.9 L394.8,262.6 L395.6,263.1 L396.4,263.2 L397.2,261.4 L398.0,262.8 L398.8,261.5 L399.7,261.9 L400.5,261.8 L401.3,261.7 L402.2,261.6 L403.0,260.7 L403.8,261.1 L404.7,260.3 L405.5,259.8 L406.3,259.6 L407.2,260.1 L408.0,260.4 L409.0,258.9 L410.0,256.7 L410.8,259.3 L411.6,256.3 L412.4,257.0 L413.2,255.8 L414.0,255.2 L414.8,252.7 L415.6,250.7 L416.4,251.4 L417.2,250.1 L418.0,249.6 L418.8,251.7 L419.6,248.2 L420.4,249.7 L421.2,246.5 L422.0,247.9 L422.8,246.1 L423.6,245.0 L424.4,244.9 L425.2,246.6 L426.0,244.3 L427.5,236.1 L428.0,230.3 L428.5,240.0 L430.0,240.3 L431.0,231.4 L432.0,242.5 L433.0,238.6 L434.0,234.7 L435.0,243.6 L436.0,236.7 L437.0,235.2 L438.0,241.7 L439.0,244.8 L440.0,245.1 L440.8,244.2 L441.6,248.3 L442.4,247.7 L443.2,249.5 L444.0,251.9 L445.0,254.8 L446.0,254.1 L447.0,256.8 L448.0,257.6 L449.0,260.1 L450.0,259.5 L450.8,261.9 L451.7,262.7 L452.5,263.6 L453.3,263.6 L454.1,263.6 L454.9,263.6 L455.7,263.6 L456.5,263.6 L457.3,263.6 L458.1,263.6 L459.0,263.6 L459.8,263.6 L460.6,263.6 L461.4,263.6 L462.2,263.6 L463.0,263.6 L463.8,263.6 L464.6,263.6 L465.4,263.6 L466.2,263.6 L467.0,263.6 L467.8,263.6 L468.6,263.7 L469.4,263.7 L470.2,263.7 L471.0,263.7 L471.9,263.7 L472.7,263.7 L473.5,263.7 L474.3,263.7 L475.1,263.7 L475.9,263.7 L476.7,263.7 L477.5,263.7 L478.3,263.7 L479.1,263.7 L479.9,263.7 L480.7,263.7 L481.5,263.7 L482.3,263.7 L483.1,263.7 L484.0,263.7 L484.8,263.7 L485.6,263.7 L486.4,263.7 L487.2,263.7 L488.0,263.7 L488.8,263.7 L489.6,263.7 L490.4,263.7 L491.2,263.7 L492.0,263.7 L492.8,263.7 L493.6,263.7 L494.4,263.7 L495.2,263.7 L496.1,263.7 L496.9,263.7 L497.7,263.7 L498.5,263.7 L499.3,263.8 L500.1,263.8 L500.9,263.8 L501.7,263.8 L502.5,263.8 L503.3,263.8 L504.1,263.8 L504.9,263.8 L505.7,263.8 L506.5,263.8 L507.3,263.8 L508.1,263.8 L509.0,263.8 L509.8,263.8 L510.6,263.8 L511.4,263.8 L512.2,263.8 L513.0,263.8 L513.8,263.8 L514.6,263.8 L514.6,264.6 Z" fill="#666" stroke="#000" stroke-width="0.8" stroke-linejoin="bevel"/>
<rect x="373.2" y="202.2" width="141.90000000000003" height="62.400000000000034" stroke="#000" stroke-width="1" fill="none" />
<line x1="409.9" y1="202.2" x2="409.9" y2="264.6" stroke="#333" stroke-width="0.8" />
<line x1="373.2" y1="219.6" x2="409.9" y2="219.6" stroke="#333" stroke-width="0.8" />
<line x1="409.9" y1="225.5" x2="515.1" y2="225.5" stroke="#333" stroke-width="0.8" />
<text x="422.7" y="218.4" font-family='"Liberation Serif", serif' font-size="10.8" font-weight="bold" text-anchor="start" fill="#000" >CD4<tspan font-size="8.5" dy="-3.2">+</tspan><tspan dy="3.2">CD25</tspan><tspan font-size="8.5" dy="-3.6">bright</tspan></text>
<text x="469.2" y="244" font-family='"Liberation Serif", serif' font-size="12" font-weight="bold" text-anchor="start" fill="#000" >93%</text>
<text x="445" y="237.5" font-family='"Liberation Sans", sans-serif' font-size="6.5" font-weight="normal" text-anchor="start" fill="#333" >P8</text>
<line x1="377.7" y1="264.6" x2="377.7" y2="266.1" stroke="#000" stroke-width="0.5" />
<line x1="381.2" y1="264.6" x2="381.2" y2="266.1" stroke="#000" stroke-width="0.5" />
<line x1="384.0" y1="264.6" x2="384.0" y2="266.1" stroke="#000" stroke-width="0.5" />
<line x1="386.4" y1="264.6" x2="386.4" y2="266.1" stroke="#000" stroke-width="0.5" />
<line x1="388.5" y1="264.6" x2="388.5" y2="266.1" stroke="#000" stroke-width="0.5" />
<line x1="390.4" y1="264.6" x2="390.4" y2="266.1" stroke="#000" stroke-width="0.5" />
<line x1="392.0" y1="264.6" x2="392.0" y2="267.6" stroke="#000" stroke-width="0.5" />
<line x1="402.8" y1="264.6" x2="402.8" y2="266.1" stroke="#000" stroke-width="0.5" />
<line x1="409.2" y1="264.6" x2="409.2" y2="266.1" stroke="#000" stroke-width="0.5" />
<line x1="413.7" y1="264.6" x2="413.7" y2="266.1" stroke="#000" stroke-width="0.5" />
<line x1="417.2" y1="264.6" x2="417.2" y2="266.1" stroke="#000" stroke-width="0.5" />
<line x1="420.0" y1="264.6" x2="420.0" y2="266.1" stroke="#000" stroke-width="0.5" />
<line x1="422.4" y1="264.6" x2="422.4" y2="266.1" stroke="#000" stroke-width="0.5" />
<line x1="424.5" y1="264.6" x2="424.5" y2="266.1" stroke="#000" stroke-width="0.5" />
<line x1="426.4" y1="264.6" x2="426.4" y2="266.1" stroke="#000" stroke-width="0.5" />
<line x1="428.0" y1="264.6" x2="428.0" y2="267.6" stroke="#000" stroke-width="0.5" />
<line x1="438.8" y1="264.6" x2="438.8" y2="266.1" stroke="#000" stroke-width="0.5" />
<line x1="445.2" y1="264.6" x2="445.2" y2="266.1" stroke="#000" stroke-width="0.5" />
<line x1="449.7" y1="264.6" x2="449.7" y2="266.1" stroke="#000" stroke-width="0.5" />
<line x1="453.2" y1="264.6" x2="453.2" y2="266.1" stroke="#000" stroke-width="0.5" />
<line x1="456.0" y1="264.6" x2="456.0" y2="266.1" stroke="#000" stroke-width="0.5" />
<line x1="458.4" y1="264.6" x2="458.4" y2="266.1" stroke="#000" stroke-width="0.5" />
<line x1="460.5" y1="264.6" x2="460.5" y2="266.1" stroke="#000" stroke-width="0.5" />
<line x1="462.4" y1="264.6" x2="462.4" y2="266.1" stroke="#000" stroke-width="0.5" />
<line x1="464.0" y1="264.6" x2="464.0" y2="267.6" stroke="#000" stroke-width="0.5" />
<line x1="474.8" y1="264.6" x2="474.8" y2="266.1" stroke="#000" stroke-width="0.5" />
<line x1="481.2" y1="264.6" x2="481.2" y2="266.1" stroke="#000" stroke-width="0.5" />
<line x1="485.7" y1="264.6" x2="485.7" y2="266.1" stroke="#000" stroke-width="0.5" />
<line x1="489.2" y1="264.6" x2="489.2" y2="266.1" stroke="#000" stroke-width="0.5" />
<line x1="492.0" y1="264.6" x2="492.0" y2="266.1" stroke="#000" stroke-width="0.5" />
<line x1="494.4" y1="264.6" x2="494.4" y2="266.1" stroke="#000" stroke-width="0.5" />
<line x1="496.5" y1="264.6" x2="496.5" y2="266.1" stroke="#000" stroke-width="0.5" />
<line x1="498.4" y1="264.6" x2="498.4" y2="266.1" stroke="#000" stroke-width="0.5" />
<line x1="500.0" y1="264.6" x2="500.0" y2="267.6" stroke="#000" stroke-width="0.5" />
<line x1="510.8" y1="264.6" x2="510.8" y2="266.1" stroke="#000" stroke-width="0.5" />
<text x="392" y="274.1" font-family='"Liberation Serif", serif' font-size="5.5" font-weight="normal" text-anchor="middle" fill="#111" >10<tspan font-size="3.5" dy="-2.5">2</tspan></text>
<text x="428" y="274.1" font-family='"Liberation Serif", serif' font-size="5.5" font-weight="normal" text-anchor="middle" fill="#111" >10<tspan font-size="3.5" dy="-2.5">3</tspan></text>
<text x="464" y="274.1" font-family='"Liberation Serif", serif' font-size="5.5" font-weight="normal" text-anchor="middle" fill="#111" >10<tspan font-size="3.5" dy="-2.5">4</tspan></text>
<text x="500" y="274.1" font-family='"Liberation Serif", serif' font-size="5.5" font-weight="normal" text-anchor="middle" fill="#111" >10<tspan font-size="3.5" dy="-2.5">5</tspan></text>
<line x1="370.4" y1="264.1" x2="373.2" y2="264.1" stroke="#000" stroke-width="0.7" />
<text x="0" y="0" transform="translate(368.0 264.1) rotate(-90)" font-family='"Liberation Sans", sans-serif' font-size="4.6" font-weight="bold" text-anchor="middle" fill="#111" >0</text>
<line x1="370.4" y1="258.0" x2="373.2" y2="258.0" stroke="#000" stroke-width="0.7" />
<text x="0" y="0" transform="translate(368.0 258.0) rotate(-90)" font-family='"Liberation Sans", sans-serif' font-size="4.6" font-weight="bold" text-anchor="middle" fill="#111" >5</text>
<line x1="370.4" y1="251.8" x2="373.2" y2="251.8" stroke="#000" stroke-width="0.7" />
<text x="0" y="0" transform="translate(368.0 251.8) rotate(-90)" font-family='"Liberation Sans", sans-serif' font-size="4.6" font-weight="bold" text-anchor="middle" fill="#111" >10</text>
<line x1="370.4" y1="245.7" x2="373.2" y2="245.7" stroke="#000" stroke-width="0.7" />
<text x="0" y="0" transform="translate(368.0 245.7) rotate(-90)" font-family='"Liberation Sans", sans-serif' font-size="4.6" font-weight="bold" text-anchor="middle" fill="#111" >15</text>
<line x1="370.4" y1="239.5" x2="373.2" y2="239.5" stroke="#000" stroke-width="0.7" />
<text x="0" y="0" transform="translate(368.0 239.5) rotate(-90)" font-family='"Liberation Sans", sans-serif' font-size="4.6" font-weight="bold" text-anchor="middle" fill="#111" >20</text>
<line x1="370.4" y1="233.4" x2="373.2" y2="233.4" stroke="#000" stroke-width="0.7" />
<text x="0" y="0" transform="translate(368.0 233.4) rotate(-90)" font-family='"Liberation Sans", sans-serif' font-size="4.6" font-weight="bold" text-anchor="middle" fill="#111" >25</text>
<line x1="370.4" y1="227.3" x2="373.2" y2="227.3" stroke="#000" stroke-width="0.7" />
<text x="0" y="0" transform="translate(368.0 227.3) rotate(-90)" font-family='"Liberation Sans", sans-serif' font-size="4.6" font-weight="bold" text-anchor="middle" fill="#111" >30</text>
<line x1="370.4" y1="221.1" x2="373.2" y2="221.1" stroke="#000" stroke-width="0.7" />
<text x="0" y="0" transform="translate(368.0 221.1) rotate(-90)" font-family='"Liberation Sans", sans-serif' font-size="4.6" font-weight="bold" text-anchor="middle" fill="#111" >35</text>
<line x1="370.4" y1="215.0" x2="373.2" y2="215.0" stroke="#000" stroke-width="0.7" />
<text x="0" y="0" transform="translate(368.0 215.0) rotate(-90)" font-family='"Liberation Sans", sans-serif' font-size="4.6" font-weight="bold" text-anchor="middle" fill="#111" >40</text>
<line x1="370.4" y1="208.8" x2="373.2" y2="208.8" stroke="#000" stroke-width="0.7" />
<text x="0" y="0" transform="translate(368.0 208.8) rotate(-90)" font-family='"Liberation Sans", sans-serif' font-size="4.6" font-weight="bold" text-anchor="middle" fill="#111" >45</text>
<line x1="370.4" y1="202.7" x2="373.2" y2="202.7" stroke="#000" stroke-width="0.7" />
<text x="0" y="0" transform="translate(368.0 202.7) rotate(-90)" font-family='"Liberation Sans", sans-serif' font-size="4.6" font-weight="bold" text-anchor="middle" fill="#111" >50</text>
<text x="0" y="0" transform="translate(360.9 234.4) rotate(-90)" font-family='"Liberation Sans", sans-serif' font-size="6.2" font-weight="bold" text-anchor="middle" fill="#111" >Count</text>
<text x="439.5" y="291.3" font-family='"Liberation Serif", serif' font-size="13.5" font-weight="bold" text-anchor="middle" fill="#000" >Foxp3</text>
<line x1="97.3" y1="334.5" x2="97.3" y2="441.6" stroke="#000" stroke-width="1" />
<line x1="97.3" y1="441.6" x2="280" y2="441.6" stroke="#000" stroke-width="1" />
<line x1="95.3" y1="441.6" x2="97.3" y2="441.6" stroke="#000" stroke-width="0.8" />
<line x1="96" y1="430.92" x2="97.3" y2="430.92" stroke="#000" stroke-width="0.8" />
<line x1="95.3" y1="420.24" x2="97.3" y2="420.24" stroke="#000" stroke-width="0.8" />
<line x1="96" y1="409.56" x2="97.3" y2="409.56" stroke="#000" stroke-width="0.8" />
<line x1="95.3" y1="398.88" x2="97.3" y2="398.88" stroke="#000" stroke-width="0.8" />
<line x1="96" y1="388.20000000000005" x2="97.3" y2="388.20000000000005" stroke="#000" stroke-width="0.8" />
<line x1="95.3" y1="377.52000000000004" x2="97.3" y2="377.52000000000004" stroke="#000" stroke-width="0.8" />
<line x1="96" y1="366.84000000000003" x2="97.3" y2="366.84000000000003" stroke="#000" stroke-width="0.8" />
<line x1="95.3" y1="356.16" x2="97.3" y2="356.16" stroke="#000" stroke-width="0.8" />
<line x1="96" y1="345.48" x2="97.3" y2="345.48" stroke="#000" stroke-width="0.8" />
<line x1="95.3" y1="334.8" x2="97.3" y2="334.8" stroke="#000" stroke-width="0.8" />
<text x="92.8" y="445.20000000000005" font-family='"Liberation Sans", sans-serif' font-size="10" font-weight="normal" text-anchor="end" fill="#111" >0</text>
<text x="92.8" y="423.84000000000003" font-family='"Liberation Sans", sans-serif' font-size="10" font-weight="normal" text-anchor="end" fill="#111" >20</text>
<text x="92.8" y="402.48" font-family='"Liberation Sans", sans-serif' font-size="10" font-weight="normal" text-anchor="end" fill="#111" >40</text>
<text x="92.8" y="381.12000000000006" font-family='"Liberation Sans", sans-serif' font-size="10" font-weight="normal" text-anchor="end" fill="#111" >60</text>
<text x="92.8" y="359.76000000000005" font-family='"Liberation Sans", sans-serif' font-size="10" font-weight="normal" text-anchor="end" fill="#111" >80</text>
<text x="92.8" y="338.40000000000003" font-family='"Liberation Sans", sans-serif' font-size="10" font-weight="normal" text-anchor="end" fill="#111" >100</text>
<line x1="158.8" y1="441.6" x2="158.8" y2="444" stroke="#000" stroke-width="0.8" />
<line x1="219.4" y1="441.6" x2="219.4" y2="444" stroke="#000" stroke-width="0.8" />
<line x1="280" y1="441.6" x2="280" y2="444" stroke="#000" stroke-width="0.8" />
<rect x="117.6" y="398.88" width="17.6" height="42.72000000000003" fill="#000"/>
<rect x="179.3" y="360.432" width="17" height="81.168" fill="#000"/>
<rect x="239.5" y="334.8" width="17.3" height="106.80000000000001" fill="#000"/>
<text x="0" y="0" transform="translate(130.5 377.5) rotate(-90)" font-family='"Liberation Sans", sans-serif' font-size="10" font-weight="normal" text-anchor="middle" fill="#111" >2 of 5</text>
<text x="0" y="0" transform="translate(169.3 367.5) rotate(-90)" font-family='"Liberation Sans", sans-serif' font-size="10" font-weight="normal" text-anchor="middle" fill="#111" >6 of 8</text>
<text x="0" y="0" transform="translate(232.3 363.2) rotate(-90)" font-family='"Liberation Sans", sans-serif' font-size="10" font-weight="normal" text-anchor="middle" fill="#111" >7 of 7</text>
<text x="126" y="455.8" font-family='"Liberation Sans", sans-serif' font-size="10" font-weight="normal" text-anchor="middle" fill="#111" >50,000</text>
<text x="187.3" y="455.8" font-family='"Liberation Sans", sans-serif' font-size="10" font-weight="normal" text-anchor="middle" fill="#111" >100,000</text>
<text x="251.4" y="455.8" font-family='"Liberation Sans", sans-serif' font-size="10" font-weight="normal" text-anchor="middle" fill="#111" >200,000</text>
<text x="148.5" y="473.1" font-family='"Liberation Serif", serif' font-size="13" font-weight="bold" text-anchor="start" fill="#000" >Dose of B6 T<tspan font-size="10" dy="3">reg</tspan></text>
<text x="0" y="0" transform="translate(69.8 391) rotate(-90)" font-family='"Liberation Serif", serif' font-size="13" font-weight="bold" text-anchor="middle" fill="#000" letter-spacing="0.35">% engraftment</text>
<line x1="342.5" y1="334.5" x2="342.5" y2="441.6" stroke="#000" stroke-width="1" />
<line x1="342.5" y1="441.6" x2="512.6" y2="441.6" stroke="#000" stroke-width="1" />
<line x1="340.5" y1="441.6" x2="342.5" y2="441.6" stroke="#000" stroke-width="0.8" />
<text x="338.5" y="445.20000000000005" font-family='"Liberation Sans", sans-serif' font-size="10" font-weight="normal" text-anchor="end" fill="#111" >0</text>
<line x1="340.5" y1="420.24" x2="342.5" y2="420.24" stroke="#000" stroke-width="0.8" />
<text x="338.5" y="423.84000000000003" font-family='"Liberation Sans", sans-serif' font-size="10" font-weight="normal" text-anchor="end" fill="#111" >20</text>
<line x1="340.5" y1="398.88" x2="342.5" y2="398.88" stroke="#000" stroke-width="0.8" />
<text x="338.5" y="402.48" font-family='"Liberation Sans", sans-serif' font-size="10" font-weight="normal" text-anchor="end" fill="#111" >40</text>
<line x1="340.5" y1="377.52000000000004" x2="342.5" y2="377.52000000000004" stroke="#000" stroke-width="0.8" />
<text x="338.5" y="381.12000000000006" font-family='"Liberation Sans", sans-serif' font-size="10" font-weight="normal" text-anchor="end" fill="#111" >60</text>
<line x1="340.5" y1="356.16" x2="342.5" y2="356.16" stroke="#000" stroke-width="0.8" />
<text x="338.5" y="359.76000000000005" font-family='"Liberation Sans", sans-serif' font-size="10" font-weight="normal" text-anchor="end" fill="#111" >80</text>
<line x1="340.5" y1="334.8" x2="342.5" y2="334.8" stroke="#000" stroke-width="0.8" />
<text x="338.5" y="338.40000000000003" font-family='"Liberation Sans", sans-serif' font-size="10" font-weight="normal" text-anchor="end" fill="#111" >100</text>
<line x1="379.3" y1="340.9" x2="379.3" y2="407.7" stroke="#555" stroke-width="0.8" />
<line x1="379.3" y1="340.9" x2="460.6" y2="340.9" stroke="#555" stroke-width="0.8" />
<line x1="379.3" y1="367.7" x2="419.2" y2="367.7" stroke="#555" stroke-width="0.8" />
<text x="421.5" y="341.5" font-family='"Liberation Serif", serif' font-size="12" font-weight="normal" text-anchor="middle" fill="#000" >∗∗</text>
<text x="402.3" y="380" font-family='"Liberation Serif", serif' font-size="12" font-weight="normal" text-anchor="middle" fill="#000" >∗</text>
<circle cx="375.4" cy="441" r="2.7" fill="#000"/>
<circle cx="379.7" cy="441" r="2.7" fill="#000"/>
<circle cx="384" cy="441" r="2.7" fill="#000"/>
<circle cx="388.4" cy="441" r="2.7" fill="#000"/>
<circle cx="392.3" cy="441" r="2.7" fill="#000"/>
<circle cx="385.4" cy="433.4" r="2.7" fill="#000"/>
<circle cx="420.7" cy="441" r="2.7" fill="#000"/>
<circle cx="425.8" cy="441" r="2.7" fill="#000"/>
<circle cx="431" cy="441" r="2.7" fill="#000"/>
<circle cx="436.2" cy="441" r="2.7" fill="#000"/>
<circle cx="441.7" cy="441" r="2.7" fill="#000"/>
<circle cx="427.8" cy="433.4" r="2.7" fill="#000"/>
<circle cx="427.8" cy="405.7" r="2.7" fill="#000"/>
<circle cx="427.8" cy="352.9" r="2.7" fill="#000"/>
<circle cx="470.2" cy="347" r="2.7" fill="#000"/>
<circle cx="470.2" cy="352.5" r="2.7" fill="#000"/>
<circle cx="470.2" cy="357" r="2.7" fill="#000"/>
<circle cx="470.2" cy="361" r="2.7" fill="#000"/>
<circle cx="470.2" cy="373.5" r="2.7" fill="#000"/>
<circle cx="470.2" cy="399.8" r="2.7" fill="#000"/>
<circle cx="470.2" cy="441" r="2.7" fill="#000"/>
<rect x="422.1" y="422.6" width="11.3" height="3" stroke="none" stroke-width="0" fill="#000" />
<rect x="465.5" y="374.2" width="11.1" height="3" stroke="none" stroke-width="0" fill="#000" />
<text x="382.4" y="459" font-family='"Liberation Sans", sans-serif' font-size="10" font-weight="normal" text-anchor="middle" fill="#111" >50,000</text>
<text x="435.2" y="459" font-family='"Liberation Sans", sans-serif' font-size="10" font-weight="normal" text-anchor="middle" fill="#111" >100,000</text>
<text x="477.6" y="459" font-family='"Liberation Sans", sans-serif' font-size="10" font-weight="normal" text-anchor="middle" fill="#111" >200,000</text>
<text x="396.9" y="477.2" font-family='"Liberation Serif", serif' font-size="13" font-weight="bold" text-anchor="start" fill="#000" >Naive B6 T<tspan font-size="10" dy="3">reg</tspan></text>
<text x="0" y="0" transform="translate(317.5 383.3) rotate(-90)" font-family='"Liberation Serif", serif' font-size="12.2" font-weight="bold" text-anchor="middle" fill="#000" >% donor chimerism</text>
<text x="354.5" y="498" font-family='"Liberation Serif", serif' font-size="12" font-weight="normal" text-anchor="start" fill="#111" >∗<tspan font-style="italic">p</tspan><tspan font-family="Liberation Sans" font-size="11"> = 0.23</tspan></text>
<text x="443.8" y="498" font-family='"Liberation Serif", serif' font-size="12.2" font-weight="normal" text-anchor="start" fill="#111" >∗∗<tspan font-style="italic">p</tspan><tspan font-family="Liberation Sans" font-size="11"> = 0.002</tspan></text>
<line x1="96.8" y1="546" x2="96.8" y2="670.8" stroke="#000" stroke-width="1" />
<line x1="96.8" y1="670.8" x2="260.3" y2="670.8" stroke="#000" stroke-width="1" />
<line x1="94.5" y1="670.8" x2="96.8" y2="670.8" stroke="#000" stroke-width="0.8" />
<text x="91.4" y="674.5999999999999" font-family='"Liberation Serif", serif' font-size="11.2" font-weight="normal" text-anchor="end" fill="#111"  stroke="#111" stroke-width="0.15">0</text>
<line x1="94.5" y1="645.8399999999999" x2="96.8" y2="645.8399999999999" stroke="#000" stroke-width="0.8" />
<text x="91.4" y="649.6399999999999" font-family='"Liberation Serif", serif' font-size="11.2" font-weight="normal" text-anchor="end" fill="#111"  stroke="#111" stroke-width="0.15">20</text>
<line x1="94.5" y1="620.88" x2="96.8" y2="620.88" stroke="#000" stroke-width="0.8" />
<text x="91.4" y="624.68" font-family='"Liberation Serif", serif' font-size="11.2" font-weight="normal" text-anchor="end" fill="#111"  stroke="#111" stroke-width="0.15">40</text>
<line x1="94.5" y1="595.92" x2="96.8" y2="595.92" stroke="#000" stroke-width="0.8" />
<text x="91.4" y="599.7199999999999" font-family='"Liberation Serif", serif' font-size="11.2" font-weight="normal" text-anchor="end" fill="#111"  stroke="#111" stroke-width="0.15">60</text>
<line x1="94.5" y1="570.9599999999999" x2="96.8" y2="570.9599999999999" stroke="#000" stroke-width="0.8" />
<text x="91.4" y="574.7599999999999" font-family='"Liberation Serif", serif' font-size="11.2" font-weight="normal" text-anchor="end" fill="#111"  stroke="#111" stroke-width="0.15">80</text>
<line x1="94.5" y1="546.0" x2="96.8" y2="546.0" stroke="#000" stroke-width="0.8" />
<text x="91.4" y="549.8" font-family='"Liberation Serif", serif' font-size="11.2" font-weight="normal" text-anchor="end" fill="#111"  stroke="#111" stroke-width="0.15">100</text>
<line x1="97.0" y1="670.8" x2="97.0" y2="673" stroke="#000" stroke-width="0.8" />
<text x="98.5" y="684.3" font-family='"Liberation Serif", serif' font-size="11" font-weight="normal" text-anchor="middle" fill="#111" >0</text>
<line x1="129.66" y1="670.8" x2="129.66" y2="673" stroke="#000" stroke-width="0.8" />
<text x="131.16" y="684.3" font-family='"Liberation Serif", serif' font-size="11" font-weight="normal" text-anchor="middle" fill="#111" >20</text>
<line x1="162.32" y1="670.8" x2="162.32" y2="673" stroke="#000" stroke-width="0.8" />
<text x="163.82" y="684.3" font-family='"Liberation Serif", serif' font-size="11" font-weight="normal" text-anchor="middle" fill="#111" >40</text>
<line x1="194.98000000000002" y1="670.8" x2="194.98000000000002" y2="673" stroke="#000" stroke-width="0.8" />
<text x="196.48000000000002" y="684.3" font-family='"Liberation Serif", serif' font-size="11" font-weight="normal" text-anchor="middle" fill="#111" >60</text>
<line x1="227.64" y1="670.8" x2="227.64" y2="673" stroke="#000" stroke-width="0.8" />
<text x="229.14" y="684.3" font-family='"Liberation Serif", serif' font-size="11" font-weight="normal" text-anchor="middle" fill="#111" >80</text>
<line x1="260.3" y1="670.8" x2="260.3" y2="673" stroke="#000" stroke-width="0.8" />
<text x="261.8" y="684.3" font-family='"Liberation Serif", serif' font-size="11" font-weight="normal" text-anchor="middle" fill="#111" >100</text>
<text x="109.2" y="700.6" font-family='"Liberation Serif", serif' font-size="12.5" font-weight="bold" text-anchor="start" fill="#000" letter-spacing="0.32">Days after transplantation</text>
<text x="0" y="0" transform="translate(71.3 609.6) rotate(-90)" font-family='"Liberation Serif", serif' font-size="13" font-weight="bold" text-anchor="middle" fill="#000" >% survival</text>
<text x="110.5" y="657.9" font-family='"Liberation Serif", serif' font-size="13.5" font-weight="normal" text-anchor="start" fill="#111" >B6</text>
<line x1="129" y1="653.6" x2="142.5" y2="653.6" stroke="#111" stroke-width="1.1" />
<path d="M139.5 650.6 L143.8 653.6 L139.5 656.6" fill="none" stroke="#111" stroke-width="1.1"/>
<text x="145.3" y="657.9" font-family='"Liberation Serif", serif' font-size="13.5" font-weight="normal" text-anchor="start" fill="#111" >NOD</text>
<path d="M96.8,546.0 L178.5,546.0 L178.5,563.8 L254.0,563.8 L254.0,582.0 L260.4,582.0" fill="none" stroke="#222" stroke-width="1.1"/>
<path d="M96.8,546.0 L141.9,546.0 L141.9,561.0 L150.2,561.0 L150.2,577.0 L178.5,577.0 L178.5,592.0 L223.8,592.0 L223.8,608.0 L234.2,608.0 L234.2,623.5 L260.3,623.5" fill="none" stroke="#222" stroke-width="1.1"/>
<path d="M96.8,546.0 L119.2,546.0 L119.2,570.8 L129.4,570.8 L129.4,620.5 L194.8,620.5 L194.8,645.4 L234.2,645.4 L234.2,670.8" fill="none" stroke="#222" stroke-width="1.1"/>
<rect x="94.65" y="543.85" width="4.3" height="4.3" fill="#000" stroke="#000" stroke-width="0.9"/>
<rect x="116.65" y="543.85" width="4.3" height="4.3" fill="#000" stroke="#000" stroke-width="0.9"/>
<rect x="127.25" y="543.85" width="4.3" height="4.3" fill="#000" stroke="#000" stroke-width="0.9"/>
<rect x="134.95" y="543.85" width="4.3" height="4.3" fill="#000" stroke="#000" stroke-width="0.9"/>
<rect x="139.35" y="543.85" width="4.3" height="4.3" fill="#000" stroke="#000" stroke-width="0.9"/>
<path d="M147.80 548.24 L150.60 543.20 L153.40 548.24 Z" fill="#000"/>
<path d="M175.70 548.24 L178.50 543.20 L181.30 548.24 Z" fill="#000"/>
<path d="M175.70 566.04 L178.50 561.00 L181.30 566.04 Z" fill="#000"/>
<path d="M192.20 566.04 L195.00 561.00 L197.80 566.04 Z" fill="#000"/>
<path d="M221.40 566.04 L224.20 561.00 L227.00 566.04 Z" fill="#000"/>
<path d="M231.60 566.04 L234.40 561.00 L237.20 566.04 Z" fill="#000"/>
<path d="M251.20 566.04 L254.00 561.00 L256.80 566.04 Z" fill="#000"/>
<path d="M251.20 584.24 L254.00 579.20 L256.80 584.24 Z" fill="#000"/>
<path d="M257.60 584.24 L260.40 579.20 L263.20 584.24 Z" fill="#000"/>
<rect x="139.80" y="558.90" width="4.2" height="4.2" fill="#fff" stroke="#000" stroke-width="0.9"/>
<rect x="148.10" y="558.90" width="4.2" height="4.2" fill="#fff" stroke="#000" stroke-width="0.9"/>
<rect x="148.10" y="574.90" width="4.2" height="4.2" fill="#fff" stroke="#000" stroke-width="0.9"/>
<rect x="176.40" y="574.90" width="4.2" height="4.2" fill="#fff" stroke="#000" stroke-width="0.9"/>
<rect x="176.40" y="589.90" width="4.2" height="4.2" fill="#fff" stroke="#000" stroke-width="0.9"/>
<rect x="192.90" y="589.90" width="4.2" height="4.2" fill="#fff" stroke="#000" stroke-width="0.9"/>
<rect x="221.70" y="589.90" width="4.2" height="4.2" fill="#fff" stroke="#000" stroke-width="0.9"/>
<rect x="221.70" y="605.90" width="4.2" height="4.2" fill="#fff" stroke="#000" stroke-width="0.9"/>
<rect x="232.10" y="605.90" width="4.2" height="4.2" fill="#fff" stroke="#000" stroke-width="0.9"/>
<rect x="232.10" y="621.40" width="4.2" height="4.2" fill="#fff" stroke="#000" stroke-width="0.9"/>
<rect x="246.70" y="621.40" width="4.2" height="4.2" fill="#fff" stroke="#000" stroke-width="0.9"/>
<rect x="258.20" y="621.40" width="4.2" height="4.2" fill="#fff" stroke="#000" stroke-width="0.9"/>
<circle cx="119.2" cy="570.8" r="2.4" fill="#000"/>
<circle cx="129.4" cy="570.8" r="2.4" fill="#000"/>
<circle cx="129.8" cy="620.5" r="2.4" fill="#000"/>
<circle cx="137.4" cy="620.5" r="2.4" fill="#000"/>
<circle cx="142.5" cy="620.5" r="2.4" fill="#000"/>
<circle cx="150.1" cy="620.5" r="2.4" fill="#000"/>
<circle cx="179.7" cy="620.5" r="2.4" fill="#000"/>
<circle cx="194.8" cy="620.5" r="2.4" fill="#000"/>
<circle cx="194.8" cy="645.4" r="2.4" fill="#000"/>
<circle cx="223.8" cy="645.4" r="2.4" fill="#000"/>
<circle cx="234.2" cy="645.4" r="2.4" fill="#000"/>
<circle cx="234.2" cy="670.8" r="2.4" fill="#000"/>
<path d="M243.5 634.3 C246.5 634.3 246.8 635.5 246.8 638 L246.8 641.5 C246.8 643.2 247.6 643.9 249.3 643.9 C247.6 643.9 246.8 644.6 246.8 646.3 L246.8 650 C246.8 652.5 246.5 653.5 243.5 653.5" fill="none" stroke="#333" stroke-width="0.9"/>
<text x="255.3" y="649" font-family='"Liberation Serif", serif' font-size="12" font-weight="normal" text-anchor="middle" fill="#000"  stroke="#000" stroke-width="0.3">∗</text>
<path d="M265.4 593.5 C268.7 593.5 269.3 595 269.3 598 L269.3 621.5 C269.3 624.5 270.3 626 272.5 626.3 C270.3 626.6 269.3 628 269.3 631 L269.3 654.5 C269.3 657.5 268.7 659.2 265.4 659.2" fill="none" stroke="#333" stroke-width="0.9"/>
<text x="282.3" y="642.3" font-family='"Liberation Serif", serif' font-size="12" font-weight="normal" text-anchor="middle" fill="#000"  stroke="#000" stroke-width="0.3">∗∗</text>
<text x="338.2" y="547.6" font-family='"Liberation Serif", serif' font-size="13" font-weight="normal" text-anchor="middle" fill="#111" >HSC</text>
<text x="370" y="547.6" font-family='"Liberation Serif", serif' font-size="13" font-weight="normal" text-anchor="start" fill="#111" >B6 T<tspan font-size="8" dy="2.5">reg</tspan></text>
<text x="439" y="547.6" font-family='"Liberation Serif", serif' font-size="13" font-weight="normal" text-anchor="middle" fill="#111" >n</text>
<line x1="301.5" y1="554.5" x2="450.8" y2="554.5" stroke="#000" stroke-width="1" />
<line x1="292.4" y1="564.1" x2="311.8" y2="564.1" stroke="#000" stroke-width="1.3" />
<circle cx="302.2" cy="563.5" r="3.8" fill="#000"/>
<text x="339.2" y="568.6" font-family='"Liberation Serif", serif' font-size="13" font-weight="normal" text-anchor="middle" fill="#111" >10,000</text>
<text x="388.6" y="568.6" font-family='"Liberation Serif", serif' font-size="13" font-weight="normal" text-anchor="middle" fill="#111" >50,000</text>
<text x="441.5" y="568.6" font-family='"Liberation Serif", serif' font-size="13" font-weight="normal" text-anchor="middle" fill="#111" >5</text>
<line x1="292.4" y1="583.8" x2="311.8" y2="583.8" stroke="#000" stroke-width="1.3" />
<rect x="298.8" y="580.5" width="6.6" height="6.8" fill="#fff" stroke="#000" stroke-width="1.1"/>
<text x="339.2" y="588.3" font-family='"Liberation Serif", serif' font-size="13" font-weight="normal" text-anchor="middle" fill="#111" >10,000</text>
<text x="388.6" y="588.3" font-family='"Liberation Serif", serif' font-size="13" font-weight="normal" text-anchor="middle" fill="#111" >100,000</text>
<text x="441.5" y="588.3" font-family='"Liberation Serif", serif' font-size="13" font-weight="normal" text-anchor="middle" fill="#111" >8</text>
<line x1="292.4" y1="603.5" x2="311.8" y2="603.5" stroke="#000" stroke-width="1.3" />
<path d="M297.4 607.5 L302.2 597.9 L307 607.5 Z" fill="#000"/>
<text x="339.2" y="608.0" font-family='"Liberation Serif", serif' font-size="13" font-weight="normal" text-anchor="middle" fill="#111" >10,000</text>
<text x="388.6" y="608.0" font-family='"Liberation Serif", serif' font-size="13" font-weight="normal" text-anchor="middle" fill="#111" >200,000</text>
<text x="441.5" y="608.0" font-family='"Liberation Serif", serif' font-size="13" font-weight="normal" text-anchor="middle" fill="#111" >7</text>
<text x="333.2" y="643.5" font-family='"Liberation Serif", serif' font-size="12.5" font-weight="normal" text-anchor="start" fill="#111" >∗<tspan font-style="italic">p</tspan><tspan font-family="Liberation Sans" font-size="11.3"> = 0.046</tspan></text>
<text x="420.4" y="643.5" font-family='"Liberation Serif", serif' font-size="12.5" font-weight="normal" text-anchor="start" fill="#111" >∗∗<tspan font-style="italic">p</tspan><tspan font-family="Liberation Sans" font-size="11.3"> = 0.001</tspan></text>
</svg>
</body></html>
